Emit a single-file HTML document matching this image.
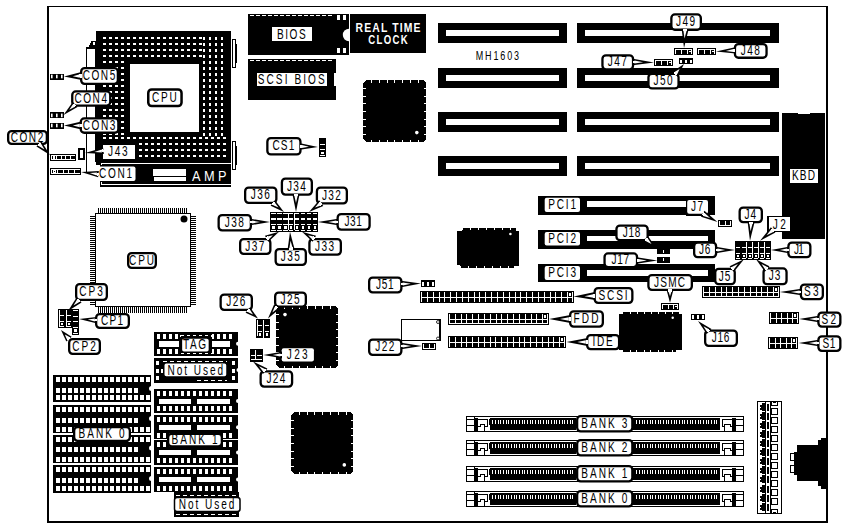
<!DOCTYPE html>
<html><head><meta charset="utf-8"><style>
html,body{margin:0;padding:0;background:#fff;width:849px;height:527px;overflow:hidden}
svg{display:block;font-family:"Liberation Sans",sans-serif}

</style></head><body>
<svg width="849" height="527" viewBox="0 0 849 527" shape-rendering="crispEdges" font-family="Liberation Sans, sans-serif">
<rect x="0" y="0" width="849" height="527" fill="#fff"/>
<rect x="47" y="6" width="781" height="1" fill="#000" />
<rect x="47" y="521" width="781" height="2" fill="#000" />
<rect x="47" y="6" width="2" height="517" fill="#000" />
<rect x="826" y="6" width="2" height="517" fill="#000" />
<rect x="96" y="31" width="135" height="131" fill="#000" />
<rect x="130" y="64" width="69" height="68" fill="#fff" />
<rect x="103" y="37" width="3" height="2" fill="#fff" />
<rect x="109" y="37" width="3" height="2" fill="#fff" />
<rect x="115" y="37" width="3" height="2" fill="#fff" />
<rect x="121" y="37" width="3" height="2" fill="#fff" />
<rect x="127" y="37" width="3" height="2" fill="#fff" />
<rect x="133" y="37" width="3" height="2" fill="#fff" />
<rect x="139" y="37" width="3" height="2" fill="#fff" />
<rect x="145" y="37" width="3" height="2" fill="#fff" />
<rect x="151" y="37" width="3" height="2" fill="#fff" />
<rect x="157" y="37" width="3" height="2" fill="#fff" />
<rect x="163" y="37" width="3" height="2" fill="#fff" />
<rect x="169" y="37" width="3" height="2" fill="#fff" />
<rect x="175" y="37" width="3" height="2" fill="#fff" />
<rect x="181" y="37" width="3" height="2" fill="#fff" />
<rect x="187" y="37" width="3" height="2" fill="#fff" />
<rect x="193" y="37" width="3" height="2" fill="#fff" />
<rect x="199" y="37" width="3" height="2" fill="#fff" />
<rect x="103" y="43" width="3" height="2" fill="#fff" />
<rect x="109" y="43" width="3" height="2" fill="#fff" />
<rect x="115" y="43" width="3" height="2" fill="#fff" />
<rect x="121" y="43" width="3" height="2" fill="#fff" />
<rect x="127" y="43" width="3" height="2" fill="#fff" />
<rect x="133" y="43" width="3" height="2" fill="#fff" />
<rect x="139" y="43" width="3" height="2" fill="#fff" />
<rect x="145" y="43" width="3" height="2" fill="#fff" />
<rect x="151" y="43" width="3" height="2" fill="#fff" />
<rect x="157" y="43" width="3" height="2" fill="#fff" />
<rect x="163" y="43" width="3" height="2" fill="#fff" />
<rect x="169" y="43" width="3" height="2" fill="#fff" />
<rect x="175" y="43" width="3" height="2" fill="#fff" />
<rect x="181" y="43" width="3" height="2" fill="#fff" />
<rect x="187" y="43" width="3" height="2" fill="#fff" />
<rect x="193" y="43" width="3" height="2" fill="#fff" />
<rect x="199" y="43" width="3" height="2" fill="#fff" />
<rect x="103" y="49" width="3" height="2" fill="#fff" />
<rect x="109" y="49" width="3" height="2" fill="#fff" />
<rect x="115" y="49" width="3" height="2" fill="#fff" />
<rect x="121" y="49" width="3" height="2" fill="#fff" />
<rect x="127" y="49" width="3" height="2" fill="#fff" />
<rect x="133" y="49" width="3" height="2" fill="#fff" />
<rect x="139" y="49" width="3" height="2" fill="#fff" />
<rect x="145" y="49" width="3" height="2" fill="#fff" />
<rect x="151" y="49" width="3" height="2" fill="#fff" />
<rect x="157" y="49" width="3" height="2" fill="#fff" />
<rect x="163" y="49" width="3" height="2" fill="#fff" />
<rect x="169" y="49" width="3" height="2" fill="#fff" />
<rect x="175" y="49" width="3" height="2" fill="#fff" />
<rect x="181" y="49" width="3" height="2" fill="#fff" />
<rect x="187" y="49" width="3" height="2" fill="#fff" />
<rect x="193" y="49" width="3" height="2" fill="#fff" />
<rect x="199" y="49" width="3" height="2" fill="#fff" />
<rect x="103" y="55" width="3" height="2" fill="#fff" />
<rect x="109" y="55" width="3" height="2" fill="#fff" />
<rect x="115" y="55" width="3" height="2" fill="#fff" />
<rect x="121" y="55" width="3" height="2" fill="#fff" />
<rect x="127" y="55" width="3" height="2" fill="#fff" />
<rect x="133" y="55" width="3" height="2" fill="#fff" />
<rect x="139" y="55" width="3" height="2" fill="#fff" />
<rect x="145" y="55" width="3" height="2" fill="#fff" />
<rect x="151" y="55" width="3" height="2" fill="#fff" />
<rect x="157" y="55" width="3" height="2" fill="#fff" />
<rect x="163" y="55" width="3" height="2" fill="#fff" />
<rect x="169" y="55" width="3" height="2" fill="#fff" />
<rect x="175" y="55" width="3" height="2" fill="#fff" />
<rect x="181" y="55" width="3" height="2" fill="#fff" />
<rect x="187" y="55" width="3" height="2" fill="#fff" />
<rect x="193" y="55" width="3" height="2" fill="#fff" />
<rect x="199" y="55" width="3" height="2" fill="#fff" />
<rect x="103" y="137" width="3" height="2" fill="#fff" />
<rect x="109" y="137" width="3" height="2" fill="#fff" />
<rect x="115" y="137" width="3" height="2" fill="#fff" />
<rect x="121" y="137" width="3" height="2" fill="#fff" />
<rect x="127" y="137" width="3" height="2" fill="#fff" />
<rect x="133" y="137" width="3" height="2" fill="#fff" />
<rect x="139" y="137" width="3" height="2" fill="#fff" />
<rect x="145" y="137" width="3" height="2" fill="#fff" />
<rect x="151" y="137" width="3" height="2" fill="#fff" />
<rect x="157" y="137" width="3" height="2" fill="#fff" />
<rect x="163" y="137" width="3" height="2" fill="#fff" />
<rect x="169" y="137" width="3" height="2" fill="#fff" />
<rect x="175" y="137" width="3" height="2" fill="#fff" />
<rect x="181" y="137" width="3" height="2" fill="#fff" />
<rect x="187" y="137" width="3" height="2" fill="#fff" />
<rect x="193" y="137" width="3" height="2" fill="#fff" />
<rect x="199" y="137" width="3" height="2" fill="#fff" />
<rect x="205" y="137" width="3" height="2" fill="#fff" />
<rect x="211" y="137" width="3" height="2" fill="#fff" />
<rect x="217" y="137" width="3" height="2" fill="#fff" />
<rect x="223" y="137" width="3" height="2" fill="#fff" />
<rect x="103" y="143" width="3" height="2" fill="#fff" />
<rect x="109" y="143" width="3" height="2" fill="#fff" />
<rect x="115" y="143" width="3" height="2" fill="#fff" />
<rect x="121" y="143" width="3" height="2" fill="#fff" />
<rect x="127" y="143" width="3" height="2" fill="#fff" />
<rect x="133" y="143" width="3" height="2" fill="#fff" />
<rect x="139" y="143" width="3" height="2" fill="#fff" />
<rect x="145" y="143" width="3" height="2" fill="#fff" />
<rect x="151" y="143" width="3" height="2" fill="#fff" />
<rect x="157" y="143" width="3" height="2" fill="#fff" />
<rect x="163" y="143" width="3" height="2" fill="#fff" />
<rect x="169" y="143" width="3" height="2" fill="#fff" />
<rect x="175" y="143" width="3" height="2" fill="#fff" />
<rect x="181" y="143" width="3" height="2" fill="#fff" />
<rect x="187" y="143" width="3" height="2" fill="#fff" />
<rect x="193" y="143" width="3" height="2" fill="#fff" />
<rect x="199" y="143" width="3" height="2" fill="#fff" />
<rect x="205" y="143" width="3" height="2" fill="#fff" />
<rect x="211" y="143" width="3" height="2" fill="#fff" />
<rect x="217" y="143" width="3" height="2" fill="#fff" />
<rect x="223" y="143" width="3" height="2" fill="#fff" />
<rect x="103" y="149" width="3" height="2" fill="#fff" />
<rect x="109" y="149" width="3" height="2" fill="#fff" />
<rect x="115" y="149" width="3" height="2" fill="#fff" />
<rect x="121" y="149" width="3" height="2" fill="#fff" />
<rect x="127" y="149" width="3" height="2" fill="#fff" />
<rect x="133" y="149" width="3" height="2" fill="#fff" />
<rect x="139" y="149" width="3" height="2" fill="#fff" />
<rect x="145" y="149" width="3" height="2" fill="#fff" />
<rect x="151" y="149" width="3" height="2" fill="#fff" />
<rect x="157" y="149" width="3" height="2" fill="#fff" />
<rect x="163" y="149" width="3" height="2" fill="#fff" />
<rect x="169" y="149" width="3" height="2" fill="#fff" />
<rect x="175" y="149" width="3" height="2" fill="#fff" />
<rect x="181" y="149" width="3" height="2" fill="#fff" />
<rect x="187" y="149" width="3" height="2" fill="#fff" />
<rect x="193" y="149" width="3" height="2" fill="#fff" />
<rect x="199" y="149" width="3" height="2" fill="#fff" />
<rect x="205" y="149" width="3" height="2" fill="#fff" />
<rect x="211" y="149" width="3" height="2" fill="#fff" />
<rect x="217" y="149" width="3" height="2" fill="#fff" />
<rect x="223" y="149" width="3" height="2" fill="#fff" />
<rect x="103" y="155" width="3" height="2" fill="#fff" />
<rect x="109" y="155" width="3" height="2" fill="#fff" />
<rect x="115" y="155" width="3" height="2" fill="#fff" />
<rect x="121" y="155" width="3" height="2" fill="#fff" />
<rect x="127" y="155" width="3" height="2" fill="#fff" />
<rect x="133" y="155" width="3" height="2" fill="#fff" />
<rect x="139" y="155" width="3" height="2" fill="#fff" />
<rect x="145" y="155" width="3" height="2" fill="#fff" />
<rect x="151" y="155" width="3" height="2" fill="#fff" />
<rect x="157" y="155" width="3" height="2" fill="#fff" />
<rect x="163" y="155" width="3" height="2" fill="#fff" />
<rect x="169" y="155" width="3" height="2" fill="#fff" />
<rect x="175" y="155" width="3" height="2" fill="#fff" />
<rect x="181" y="155" width="3" height="2" fill="#fff" />
<rect x="187" y="155" width="3" height="2" fill="#fff" />
<rect x="193" y="155" width="3" height="2" fill="#fff" />
<rect x="199" y="155" width="3" height="2" fill="#fff" />
<rect x="205" y="155" width="3" height="2" fill="#fff" />
<rect x="211" y="155" width="3" height="2" fill="#fff" />
<rect x="217" y="155" width="3" height="2" fill="#fff" />
<rect x="223" y="155" width="3" height="2" fill="#fff" />
<rect x="103" y="61" width="3" height="2" fill="#fff" />
<rect x="109" y="61" width="3" height="2" fill="#fff" />
<rect x="115" y="61" width="3" height="2" fill="#fff" />
<rect x="121" y="61" width="3" height="2" fill="#fff" />
<rect x="103" y="67" width="3" height="2" fill="#fff" />
<rect x="109" y="67" width="3" height="2" fill="#fff" />
<rect x="115" y="67" width="3" height="2" fill="#fff" />
<rect x="121" y="67" width="3" height="2" fill="#fff" />
<rect x="103" y="73" width="3" height="2" fill="#fff" />
<rect x="109" y="73" width="3" height="2" fill="#fff" />
<rect x="115" y="73" width="3" height="2" fill="#fff" />
<rect x="121" y="73" width="3" height="2" fill="#fff" />
<rect x="103" y="79" width="3" height="2" fill="#fff" />
<rect x="109" y="79" width="3" height="2" fill="#fff" />
<rect x="115" y="79" width="3" height="2" fill="#fff" />
<rect x="121" y="79" width="3" height="2" fill="#fff" />
<rect x="103" y="85" width="3" height="2" fill="#fff" />
<rect x="109" y="85" width="3" height="2" fill="#fff" />
<rect x="115" y="85" width="3" height="2" fill="#fff" />
<rect x="121" y="85" width="3" height="2" fill="#fff" />
<rect x="103" y="91" width="3" height="2" fill="#fff" />
<rect x="109" y="91" width="3" height="2" fill="#fff" />
<rect x="115" y="91" width="3" height="2" fill="#fff" />
<rect x="121" y="91" width="3" height="2" fill="#fff" />
<rect x="103" y="97" width="3" height="2" fill="#fff" />
<rect x="109" y="97" width="3" height="2" fill="#fff" />
<rect x="115" y="97" width="3" height="2" fill="#fff" />
<rect x="121" y="97" width="3" height="2" fill="#fff" />
<rect x="103" y="103" width="3" height="2" fill="#fff" />
<rect x="109" y="103" width="3" height="2" fill="#fff" />
<rect x="115" y="103" width="3" height="2" fill="#fff" />
<rect x="121" y="103" width="3" height="2" fill="#fff" />
<rect x="103" y="109" width="3" height="2" fill="#fff" />
<rect x="109" y="109" width="3" height="2" fill="#fff" />
<rect x="115" y="109" width="3" height="2" fill="#fff" />
<rect x="121" y="109" width="3" height="2" fill="#fff" />
<rect x="103" y="115" width="3" height="2" fill="#fff" />
<rect x="109" y="115" width="3" height="2" fill="#fff" />
<rect x="115" y="115" width="3" height="2" fill="#fff" />
<rect x="121" y="115" width="3" height="2" fill="#fff" />
<rect x="103" y="121" width="3" height="2" fill="#fff" />
<rect x="109" y="121" width="3" height="2" fill="#fff" />
<rect x="115" y="121" width="3" height="2" fill="#fff" />
<rect x="121" y="121" width="3" height="2" fill="#fff" />
<rect x="103" y="127" width="3" height="2" fill="#fff" />
<rect x="109" y="127" width="3" height="2" fill="#fff" />
<rect x="115" y="127" width="3" height="2" fill="#fff" />
<rect x="121" y="127" width="3" height="2" fill="#fff" />
<rect x="103" y="133" width="3" height="2" fill="#fff" />
<rect x="109" y="133" width="3" height="2" fill="#fff" />
<rect x="115" y="133" width="3" height="2" fill="#fff" />
<rect x="121" y="133" width="3" height="2" fill="#fff" />
<rect x="203" y="37" width="2" height="2.5" fill="#fff" />
<rect x="209" y="37" width="2" height="2.5" fill="#fff" />
<rect x="215" y="37" width="2" height="2.5" fill="#fff" />
<rect x="221" y="37" width="2" height="2.5" fill="#fff" />
<rect x="203" y="43" width="2" height="2.5" fill="#fff" />
<rect x="209" y="43" width="2" height="2.5" fill="#fff" />
<rect x="215" y="43" width="2" height="2.5" fill="#fff" />
<rect x="221" y="43" width="2" height="2.5" fill="#fff" />
<rect x="203" y="49" width="2" height="2.5" fill="#fff" />
<rect x="209" y="49" width="2" height="2.5" fill="#fff" />
<rect x="215" y="49" width="2" height="2.5" fill="#fff" />
<rect x="221" y="49" width="2" height="2.5" fill="#fff" />
<rect x="203" y="55" width="2" height="2.5" fill="#fff" />
<rect x="209" y="55" width="2" height="2.5" fill="#fff" />
<rect x="215" y="55" width="2" height="2.5" fill="#fff" />
<rect x="221" y="55" width="2" height="2.5" fill="#fff" />
<rect x="203" y="61" width="2" height="2.5" fill="#fff" />
<rect x="209" y="61" width="2" height="2.5" fill="#fff" />
<rect x="215" y="61" width="2" height="2.5" fill="#fff" />
<rect x="221" y="61" width="2" height="2.5" fill="#fff" />
<rect x="203" y="67" width="2" height="2.5" fill="#fff" />
<rect x="209" y="67" width="2" height="2.5" fill="#fff" />
<rect x="215" y="67" width="2" height="2.5" fill="#fff" />
<rect x="221" y="67" width="2" height="2.5" fill="#fff" />
<rect x="203" y="73" width="2" height="2.5" fill="#fff" />
<rect x="209" y="73" width="2" height="2.5" fill="#fff" />
<rect x="215" y="73" width="2" height="2.5" fill="#fff" />
<rect x="221" y="73" width="2" height="2.5" fill="#fff" />
<rect x="203" y="79" width="2" height="2.5" fill="#fff" />
<rect x="209" y="79" width="2" height="2.5" fill="#fff" />
<rect x="215" y="79" width="2" height="2.5" fill="#fff" />
<rect x="221" y="79" width="2" height="2.5" fill="#fff" />
<rect x="203" y="85" width="2" height="2.5" fill="#fff" />
<rect x="209" y="85" width="2" height="2.5" fill="#fff" />
<rect x="215" y="85" width="2" height="2.5" fill="#fff" />
<rect x="221" y="85" width="2" height="2.5" fill="#fff" />
<rect x="203" y="91" width="2" height="2.5" fill="#fff" />
<rect x="209" y="91" width="2" height="2.5" fill="#fff" />
<rect x="215" y="91" width="2" height="2.5" fill="#fff" />
<rect x="221" y="91" width="2" height="2.5" fill="#fff" />
<rect x="203" y="97" width="2" height="2.5" fill="#fff" />
<rect x="209" y="97" width="2" height="2.5" fill="#fff" />
<rect x="215" y="97" width="2" height="2.5" fill="#fff" />
<rect x="221" y="97" width="2" height="2.5" fill="#fff" />
<rect x="203" y="103" width="2" height="2.5" fill="#fff" />
<rect x="209" y="103" width="2" height="2.5" fill="#fff" />
<rect x="215" y="103" width="2" height="2.5" fill="#fff" />
<rect x="221" y="103" width="2" height="2.5" fill="#fff" />
<rect x="203" y="109" width="2" height="2.5" fill="#fff" />
<rect x="209" y="109" width="2" height="2.5" fill="#fff" />
<rect x="215" y="109" width="2" height="2.5" fill="#fff" />
<rect x="221" y="109" width="2" height="2.5" fill="#fff" />
<rect x="203" y="115" width="2" height="2.5" fill="#fff" />
<rect x="209" y="115" width="2" height="2.5" fill="#fff" />
<rect x="215" y="115" width="2" height="2.5" fill="#fff" />
<rect x="221" y="115" width="2" height="2.5" fill="#fff" />
<rect x="203" y="121" width="2" height="2.5" fill="#fff" />
<rect x="209" y="121" width="2" height="2.5" fill="#fff" />
<rect x="215" y="121" width="2" height="2.5" fill="#fff" />
<rect x="221" y="121" width="2" height="2.5" fill="#fff" />
<rect x="203" y="127" width="2" height="2.5" fill="#fff" />
<rect x="209" y="127" width="2" height="2.5" fill="#fff" />
<rect x="215" y="127" width="2" height="2.5" fill="#fff" />
<rect x="221" y="127" width="2" height="2.5" fill="#fff" />
<rect x="203" y="133" width="2" height="2.5" fill="#fff" />
<rect x="209" y="133" width="2" height="2.5" fill="#fff" />
<rect x="215" y="133" width="2" height="2.5" fill="#fff" />
<rect x="221" y="133" width="2" height="2.5" fill="#fff" />
<rect x="199" y="38" width="0" height="0" fill="#000" />
<rect x="148.25" y="89.45" width="33.30000000000001" height="16.599999999999994" rx="3.5" ry="3.5" fill="#fff" stroke="#000" stroke-width="2.5" shape-rendering="geometricPrecision"/>
<text transform="translate(151.90,101.75) scale(0.72,1)" x="0" y="0" font-size="14" textLength="34.72" lengthAdjust="spacing">CPU</text>
<rect x="86" y="47" width="10" height="115" fill="#000" />
<rect x="87" y="49" width="8" height="113" fill="#fff" />
<rect x="86" y="162" width="1" height="10" fill="#000" />
<rect x="89" y="45" width="7" height="2" fill="#000" />
<rect x="90" y="43" width="6" height="2" fill="#000" />
<rect x="91" y="41" width="5" height="2" fill="#000" />
<rect x="93" y="42" width="2" height="3" fill="#fff" />
<rect x="232" y="39" width="4" height="29" fill="#000" />
<rect x="233" y="40" width="2" height="27" fill="#fff" />
<rect x="236" y="44" width="1" height="19" fill="#000" />
<rect x="232" y="141" width="4" height="29" fill="#000" />
<rect x="233" y="142" width="2" height="27" fill="#fff" />
<rect x="236" y="146" width="1" height="19" fill="#000" />
<rect x="100" y="162" width="131" height="25" fill="#000" />
<rect x="96" y="160" width="5" height="5" fill="#000" />
<rect x="101" y="163" width="130" height="1" fill="#fff" />
<rect x="101" y="163" width="1" height="2" fill="#fff" />
<rect x="101" y="184" width="130" height="1" fill="#fff" />
<rect x="101" y="182" width="1" height="3" fill="#fff" />
<rect x="153" y="169" width="33" height="6.5" fill="#fff" />
<rect x="154" y="177" width="32" height="4" fill="#fff" />
<text transform="translate(192.00,180.60) scale(0.85,1)" x="0" y="0" font-size="15" fill="#fff" font-weight="normal" textLength="40.59" lengthAdjust="spacing">AMP</text>
<rect x="50" y="73.5" width="14" height="6.0" fill="#000" />
<rect x="51" y="74.7" width="1.6" height="3.6" fill="#fff" shape-rendering="geometricPrecision"/>
<rect x="56" y="74.7" width="1.6" height="3.6" fill="#fff" shape-rendering="geometricPrecision"/>
<rect x="61" y="74.7" width="1.6" height="3.6" fill="#fff" shape-rendering="geometricPrecision"/>
<rect x="50" y="112.4" width="14" height="6.0" fill="#000" />
<rect x="51" y="113.60000000000001" width="1.6" height="3.6" fill="#fff" shape-rendering="geometricPrecision"/>
<rect x="56" y="113.60000000000001" width="1.6" height="3.6" fill="#fff" shape-rendering="geometricPrecision"/>
<rect x="61" y="113.60000000000001" width="1.6" height="3.6" fill="#fff" shape-rendering="geometricPrecision"/>
<rect x="50" y="122.5" width="14" height="6.0" fill="#000" />
<rect x="51" y="123.7" width="1.6" height="3.6" fill="#fff" shape-rendering="geometricPrecision"/>
<rect x="56" y="123.7" width="1.6" height="3.6" fill="#fff" shape-rendering="geometricPrecision"/>
<rect x="61" y="123.7" width="1.6" height="3.6" fill="#fff" shape-rendering="geometricPrecision"/>
<rect x="50" y="154" width="26" height="7" fill="#000" />
<rect x="51" y="155" width="24" height="5" fill="#fff" />
<rect x="52" y="156" width="4" height="3" fill="#000" />
<rect x="57" y="156" width="4" height="3" fill="#000" />
<rect x="62" y="156" width="3" height="3" fill="#000" />
<rect x="66" y="156" width="4" height="3" fill="#000" />
<rect x="71" y="156" width="4" height="3" fill="#000" />
<rect x="52" y="156" width="4" height="3" fill="#000" />
<rect x="53" y="156" width="2" height="3" fill="#fff" />
<rect x="54" y="157" width="0" height="1" fill="#000" />
<rect x="50" y="168" width="31" height="7" fill="#000" />
<rect x="51" y="169" width="29" height="5" fill="#fff" />
<rect x="52" y="170" width="5" height="3" fill="#000" />
<rect x="58" y="170" width="5" height="3" fill="#000" />
<rect x="64" y="170" width="4" height="3" fill="#000" />
<rect x="69" y="170" width="5" height="3" fill="#000" />
<rect x="75" y="170" width="5" height="3" fill="#000" />
<rect x="52" y="170" width="5" height="3" fill="#000" />
<rect x="53" y="170" width="3" height="3" fill="#fff" />
<rect x="54" y="171" width="1" height="1" fill="#000" />
<rect x="78" y="148" width="7" height="12" fill="#000" />
<rect x="80" y="150" width="3" height="8" fill="#fff" />
<rect x="81.15" y="68.15" width="36.7" height="15.7" rx="3.5" ry="3.5" fill="#fff" stroke="#000" stroke-width="2.3" shape-rendering="geometricPrecision"/>
<text transform="translate(82.75,80.00) scale(0.72,1)" x="0" y="0" font-size="14" textLength="45.14" lengthAdjust="spacing">CON5</text>
<rect x="72.25" y="91.45" width="38.000000000000014" height="14.100000000000005" rx="3.5" ry="3.5" fill="#fff" stroke="#000" stroke-width="2.3" shape-rendering="geometricPrecision"/>
<text transform="translate(74.50,102.50) scale(0.72,1)" x="0" y="0" font-size="14" textLength="45.14" lengthAdjust="spacing">CON4</text>
<rect x="80.75" y="118.45" width="37.60000000000001" height="14.300000000000008" rx="3.5" ry="3.5" fill="#fff" stroke="#000" stroke-width="2.3" shape-rendering="geometricPrecision"/>
<text transform="translate(82.80,129.60) scale(0.72,1)" x="0" y="0" font-size="14" textLength="45.14" lengthAdjust="spacing">CON3</text>
<rect x="8.15" y="131.15" width="38.7" height="12.7" rx="3.5" ry="3.5" fill="#fff" stroke="#000" stroke-width="2.3" shape-rendering="geometricPrecision"/>
<text transform="translate(10.75,141.50) scale(0.72,1)" x="0" y="0" font-size="14" textLength="45.14" lengthAdjust="spacing">CON2</text>
<rect x="97.5" y="166.5" width="38" height="14.5" rx="2" fill="#fff" shape-rendering="geometricPrecision"/>
<text transform="translate(99.10,177.80) scale(0.72,1)" x="0" y="0" font-size="14" fill="#000" font-weight="normal" textLength="45.97" lengthAdjust="spacing">CON1</text>
<rect x="101" y="142" width="36" height="19" fill="#000" />
<rect x="102.8" y="145.2" width="32.000000000000014" height="13.600000000000023" fill="#fff" />
<text transform="translate(108.00,156.00) scale(0.72,1)" x="0" y="0" font-size="14" fill="#000" font-weight="normal" textLength="27.08" lengthAdjust="spacing">J43</text>
<polygon points="81.37432910461973,71.9550995670851 81.6242071236415,79.95119617578173 64,76.5" fill="#000" shape-rendering="geometricPrecision"/>
<polygon points="79.74387503050269,74.20712521351881 79.85632013906249,77.80536868743228 72.8,76.225" fill="#fff" shape-rendering="geometricPrecision"/>
<polygon points="81.54299676745943,74.15090265923891 81.65544187601922,77.74914613315238 79.55646651623636,77.81473911314559 79.44402140767656,74.21649563923212" fill="#fff" />
<polygon points="81.5,121.5 81.5,129.5 64,125.5" fill="#000" shape-rendering="geometricPrecision"/>
<polygon points="79.8,123.7 79.8,127.3 72.8,125.5" fill="#fff" shape-rendering="geometricPrecision"/>
<polygon points="81.6,123.7 81.6,127.3 79.5,127.3 79.5,123.7" fill="#fff" />
<polygon points="103.11583391426863,147.6466561948157 103.86361789869999,154.0028200624821 85,153" fill="#000" shape-rendering="geometricPrecision"/>
<polygon points="101.63311848263837,149.59323137928854 101.96962127563248,152.45350511973842 94.35,151.9" fill="#fff" shape-rendering="geometricPrecision"/>
<polygon points="103.42078957041954,149.38291713366723 103.75729236341365,152.24319087411712 101.67167609433562,152.48855749400863 101.33517330134151,149.62828375355875" fill="#fff" />
<polygon points="98.88532796575598,171.01076289640005 98.09150566438504,177.36134130736755 81,172" fill="#000" shape-rendering="geometricPrecision"/>
<polygon points="96.98015444246573,172.5463129106145 96.6229344068488,175.40407319554984 89.8,173.1" fill="#fff" shape-rendering="geometricPrecision"/>
<polygon points="98.76625462055034,172.76957543287506 98.40903458493341,175.6273357178104 96.3252510438347,175.36686277517308 96.68247107945163,172.50910249023772" fill="#fff" />
<polygon points="72.75068876831433,101.88342407153064 77.47391856905698,107.103835956562 63.5,115" fill="#000" shape-rendering="geometricPrecision"/>
<polygon points="72.78896613900815,104.45958999066177 74.91441954934234,106.80877533892588 69.275,109.775" fill="#fff" shape-rendering="geometricPrecision"/>
<polygon points="74.12373054143094,103.25194600751735 76.24918395176513,105.60113135578146 74.6919588156052,107.01004933611662 72.56650540527102,104.66086398785251" fill="#fff" />
<polygon points="36.45032395844353,146.4283556979968 41.42835569799682,141.45032395844353 50,155" fill="#000" shape-rendering="geometricPrecision"/>
<polygon points="39.02136421483782,146.2614784976368 41.2614784976368,144.02136421483783 44.5,149.5" fill="#fff" shape-rendering="geometricPrecision"/>
<polygon points="37.748572008702034,144.988686291501 39.98868629150102,142.74857200870204 41.47361053199277,144.2334962491938 39.233496249193784,146.47361053199276" fill="#fff" />
<rect x="95" y="213" width="95.5" height="93.5" fill="#fff" />
<rect x="95.5" y="213.5" width="95" height="93" fill="none" stroke="#000" stroke-width="1.5"/>
<rect x="98" y="208" width="1" height="5.5" fill="#000" />
<rect x="98" y="306.5" width="1" height="6" fill="#000" />
<rect x="100" y="208" width="1" height="5.5" fill="#000" />
<rect x="100" y="306.5" width="1" height="6" fill="#000" />
<rect x="102" y="208" width="1" height="5.5" fill="#000" />
<rect x="102" y="306.5" width="1" height="6" fill="#000" />
<rect x="104" y="208" width="1" height="5.5" fill="#000" />
<rect x="104" y="306.5" width="1" height="6" fill="#000" />
<rect x="106" y="208" width="1" height="5.5" fill="#000" />
<rect x="106" y="306.5" width="1" height="6" fill="#000" />
<rect x="108" y="208" width="1" height="5.5" fill="#000" />
<rect x="108" y="306.5" width="1" height="6" fill="#000" />
<rect x="110" y="208" width="1" height="5.5" fill="#000" />
<rect x="110" y="306.5" width="1" height="6" fill="#000" />
<rect x="112" y="208" width="1" height="5.5" fill="#000" />
<rect x="112" y="306.5" width="1" height="6" fill="#000" />
<rect x="114" y="208" width="1" height="5.5" fill="#000" />
<rect x="114" y="306.5" width="1" height="6" fill="#000" />
<rect x="116" y="208" width="1" height="5.5" fill="#000" />
<rect x="116" y="306.5" width="1" height="6" fill="#000" />
<rect x="118" y="208" width="1" height="5.5" fill="#000" />
<rect x="118" y="306.5" width="1" height="6" fill="#000" />
<rect x="120" y="208" width="1" height="5.5" fill="#000" />
<rect x="120" y="306.5" width="1" height="6" fill="#000" />
<rect x="122" y="208" width="1" height="5.5" fill="#000" />
<rect x="122" y="306.5" width="1" height="6" fill="#000" />
<rect x="124" y="208" width="1" height="5.5" fill="#000" />
<rect x="124" y="306.5" width="1" height="6" fill="#000" />
<rect x="126" y="208" width="1" height="5.5" fill="#000" />
<rect x="126" y="306.5" width="1" height="6" fill="#000" />
<rect x="128" y="208" width="1" height="5.5" fill="#000" />
<rect x="128" y="306.5" width="1" height="6" fill="#000" />
<rect x="130" y="208" width="1" height="5.5" fill="#000" />
<rect x="130" y="306.5" width="1" height="6" fill="#000" />
<rect x="132" y="208" width="1" height="5.5" fill="#000" />
<rect x="132" y="306.5" width="1" height="6" fill="#000" />
<rect x="134" y="208" width="1" height="5.5" fill="#000" />
<rect x="134" y="306.5" width="1" height="6" fill="#000" />
<rect x="136" y="208" width="1" height="5.5" fill="#000" />
<rect x="136" y="306.5" width="1" height="6" fill="#000" />
<rect x="138" y="208" width="1" height="5.5" fill="#000" />
<rect x="138" y="306.5" width="1" height="6" fill="#000" />
<rect x="140" y="208" width="1" height="5.5" fill="#000" />
<rect x="140" y="306.5" width="1" height="6" fill="#000" />
<rect x="142" y="208" width="1" height="5.5" fill="#000" />
<rect x="142" y="306.5" width="1" height="6" fill="#000" />
<rect x="144" y="208" width="1" height="5.5" fill="#000" />
<rect x="144" y="306.5" width="1" height="6" fill="#000" />
<rect x="146" y="208" width="1" height="5.5" fill="#000" />
<rect x="146" y="306.5" width="1" height="6" fill="#000" />
<rect x="148" y="208" width="1" height="5.5" fill="#000" />
<rect x="148" y="306.5" width="1" height="6" fill="#000" />
<rect x="150" y="208" width="1" height="5.5" fill="#000" />
<rect x="150" y="306.5" width="1" height="6" fill="#000" />
<rect x="152" y="208" width="1" height="5.5" fill="#000" />
<rect x="152" y="306.5" width="1" height="6" fill="#000" />
<rect x="154" y="208" width="1" height="5.5" fill="#000" />
<rect x="154" y="306.5" width="1" height="6" fill="#000" />
<rect x="156" y="208" width="1" height="5.5" fill="#000" />
<rect x="156" y="306.5" width="1" height="6" fill="#000" />
<rect x="158" y="208" width="1" height="5.5" fill="#000" />
<rect x="158" y="306.5" width="1" height="6" fill="#000" />
<rect x="160" y="208" width="1" height="5.5" fill="#000" />
<rect x="160" y="306.5" width="1" height="6" fill="#000" />
<rect x="162" y="208" width="1" height="5.5" fill="#000" />
<rect x="162" y="306.5" width="1" height="6" fill="#000" />
<rect x="164" y="208" width="1" height="5.5" fill="#000" />
<rect x="164" y="306.5" width="1" height="6" fill="#000" />
<rect x="166" y="208" width="1" height="5.5" fill="#000" />
<rect x="166" y="306.5" width="1" height="6" fill="#000" />
<rect x="168" y="208" width="1" height="5.5" fill="#000" />
<rect x="168" y="306.5" width="1" height="6" fill="#000" />
<rect x="170" y="208" width="1" height="5.5" fill="#000" />
<rect x="170" y="306.5" width="1" height="6" fill="#000" />
<rect x="172" y="208" width="1" height="5.5" fill="#000" />
<rect x="172" y="306.5" width="1" height="6" fill="#000" />
<rect x="174" y="208" width="1" height="5.5" fill="#000" />
<rect x="174" y="306.5" width="1" height="6" fill="#000" />
<rect x="176" y="208" width="1" height="5.5" fill="#000" />
<rect x="176" y="306.5" width="1" height="6" fill="#000" />
<rect x="178" y="208" width="1" height="5.5" fill="#000" />
<rect x="178" y="306.5" width="1" height="6" fill="#000" />
<rect x="180" y="208" width="1" height="5.5" fill="#000" />
<rect x="180" y="306.5" width="1" height="6" fill="#000" />
<rect x="182" y="208" width="1" height="5.5" fill="#000" />
<rect x="182" y="306.5" width="1" height="6" fill="#000" />
<rect x="184" y="208" width="1" height="5.5" fill="#000" />
<rect x="184" y="306.5" width="1" height="6" fill="#000" />
<rect x="186" y="208" width="1" height="5.5" fill="#000" />
<rect x="186" y="306.5" width="1" height="6" fill="#000" />
<rect x="89.7" y="216" width="5.3" height="1" fill="#000" />
<rect x="190.5" y="216" width="5.5" height="1" fill="#000" />
<rect x="89.7" y="218" width="5.3" height="1" fill="#000" />
<rect x="190.5" y="218" width="5.5" height="1" fill="#000" />
<rect x="89.7" y="220" width="5.3" height="1" fill="#000" />
<rect x="190.5" y="220" width="5.5" height="1" fill="#000" />
<rect x="89.7" y="222" width="5.3" height="1" fill="#000" />
<rect x="190.5" y="222" width="5.5" height="1" fill="#000" />
<rect x="89.7" y="224" width="5.3" height="1" fill="#000" />
<rect x="190.5" y="224" width="5.5" height="1" fill="#000" />
<rect x="89.7" y="226" width="5.3" height="1" fill="#000" />
<rect x="190.5" y="226" width="5.5" height="1" fill="#000" />
<rect x="89.7" y="228" width="5.3" height="1" fill="#000" />
<rect x="190.5" y="228" width="5.5" height="1" fill="#000" />
<rect x="89.7" y="230" width="5.3" height="1" fill="#000" />
<rect x="190.5" y="230" width="5.5" height="1" fill="#000" />
<rect x="89.7" y="232" width="5.3" height="1" fill="#000" />
<rect x="190.5" y="232" width="5.5" height="1" fill="#000" />
<rect x="89.7" y="234" width="5.3" height="1" fill="#000" />
<rect x="190.5" y="234" width="5.5" height="1" fill="#000" />
<rect x="89.7" y="236" width="5.3" height="1" fill="#000" />
<rect x="190.5" y="236" width="5.5" height="1" fill="#000" />
<rect x="89.7" y="238" width="5.3" height="1" fill="#000" />
<rect x="190.5" y="238" width="5.5" height="1" fill="#000" />
<rect x="89.7" y="240" width="5.3" height="1" fill="#000" />
<rect x="190.5" y="240" width="5.5" height="1" fill="#000" />
<rect x="89.7" y="242" width="5.3" height="1" fill="#000" />
<rect x="190.5" y="242" width="5.5" height="1" fill="#000" />
<rect x="89.7" y="244" width="5.3" height="1" fill="#000" />
<rect x="190.5" y="244" width="5.5" height="1" fill="#000" />
<rect x="89.7" y="246" width="5.3" height="1" fill="#000" />
<rect x="190.5" y="246" width="5.5" height="1" fill="#000" />
<rect x="89.7" y="248" width="5.3" height="1" fill="#000" />
<rect x="190.5" y="248" width="5.5" height="1" fill="#000" />
<rect x="89.7" y="250" width="5.3" height="1" fill="#000" />
<rect x="190.5" y="250" width="5.5" height="1" fill="#000" />
<rect x="89.7" y="252" width="5.3" height="1" fill="#000" />
<rect x="190.5" y="252" width="5.5" height="1" fill="#000" />
<rect x="89.7" y="254" width="5.3" height="1" fill="#000" />
<rect x="190.5" y="254" width="5.5" height="1" fill="#000" />
<rect x="89.7" y="256" width="5.3" height="1" fill="#000" />
<rect x="190.5" y="256" width="5.5" height="1" fill="#000" />
<rect x="89.7" y="258" width="5.3" height="1" fill="#000" />
<rect x="190.5" y="258" width="5.5" height="1" fill="#000" />
<rect x="89.7" y="260" width="5.3" height="1" fill="#000" />
<rect x="190.5" y="260" width="5.5" height="1" fill="#000" />
<rect x="89.7" y="262" width="5.3" height="1" fill="#000" />
<rect x="190.5" y="262" width="5.5" height="1" fill="#000" />
<rect x="89.7" y="264" width="5.3" height="1" fill="#000" />
<rect x="190.5" y="264" width="5.5" height="1" fill="#000" />
<rect x="89.7" y="266" width="5.3" height="1" fill="#000" />
<rect x="190.5" y="266" width="5.5" height="1" fill="#000" />
<rect x="89.7" y="268" width="5.3" height="1" fill="#000" />
<rect x="190.5" y="268" width="5.5" height="1" fill="#000" />
<rect x="89.7" y="270" width="5.3" height="1" fill="#000" />
<rect x="190.5" y="270" width="5.5" height="1" fill="#000" />
<rect x="89.7" y="272" width="5.3" height="1" fill="#000" />
<rect x="190.5" y="272" width="5.5" height="1" fill="#000" />
<rect x="89.7" y="274" width="5.3" height="1" fill="#000" />
<rect x="190.5" y="274" width="5.5" height="1" fill="#000" />
<rect x="89.7" y="276" width="5.3" height="1" fill="#000" />
<rect x="190.5" y="276" width="5.5" height="1" fill="#000" />
<rect x="89.7" y="278" width="5.3" height="1" fill="#000" />
<rect x="190.5" y="278" width="5.5" height="1" fill="#000" />
<rect x="89.7" y="280" width="5.3" height="1" fill="#000" />
<rect x="190.5" y="280" width="5.5" height="1" fill="#000" />
<rect x="89.7" y="282" width="5.3" height="1" fill="#000" />
<rect x="190.5" y="282" width="5.5" height="1" fill="#000" />
<rect x="89.7" y="284" width="5.3" height="1" fill="#000" />
<rect x="190.5" y="284" width="5.5" height="1" fill="#000" />
<rect x="89.7" y="286" width="5.3" height="1" fill="#000" />
<rect x="190.5" y="286" width="5.5" height="1" fill="#000" />
<rect x="89.7" y="288" width="5.3" height="1" fill="#000" />
<rect x="190.5" y="288" width="5.5" height="1" fill="#000" />
<rect x="89.7" y="290" width="5.3" height="1" fill="#000" />
<rect x="190.5" y="290" width="5.5" height="1" fill="#000" />
<rect x="89.7" y="292" width="5.3" height="1" fill="#000" />
<rect x="190.5" y="292" width="5.5" height="1" fill="#000" />
<rect x="89.7" y="294" width="5.3" height="1" fill="#000" />
<rect x="190.5" y="294" width="5.5" height="1" fill="#000" />
<rect x="89.7" y="296" width="5.3" height="1" fill="#000" />
<rect x="190.5" y="296" width="5.5" height="1" fill="#000" />
<rect x="89.7" y="298" width="5.3" height="1" fill="#000" />
<rect x="190.5" y="298" width="5.5" height="1" fill="#000" />
<rect x="89.7" y="300" width="5.3" height="1" fill="#000" />
<rect x="190.5" y="300" width="5.5" height="1" fill="#000" />
<rect x="89.7" y="302" width="5.3" height="1" fill="#000" />
<rect x="190.5" y="302" width="5.5" height="1" fill="#000" />
<rect x="89.7" y="304" width="5.3" height="1" fill="#000" />
<rect x="190.5" y="304" width="5.5" height="1" fill="#000" />
<circle shape-rendering="geometricPrecision" cx="184" cy="219" r="3.5" fill="#000"/>
<rect x="128.15" y="253.15" width="27.7" height="14.7" rx="3.5" ry="3.5" fill="#fff" stroke="#000" stroke-width="2.3" shape-rendering="geometricPrecision"/>
<text transform="translate(129.00,264.50) scale(0.72,1)" x="0" y="0" font-size="14" textLength="34.72" lengthAdjust="spacing">CPU</text>
<rect x="58" y="309" width="21" height="19" fill="#000" />
<rect x="72" y="327" width="7" height="8" fill="#000" />
<rect x="59" y="310" width="1" height="17" fill="#fff" />
<rect x="59" y="315" width="5" height="1" fill="#fff" />
<rect x="59" y="321" width="5" height="1" fill="#fff" />
<rect x="59" y="326" width="5" height="1" fill="#fff" />
<rect x="61" y="323" width="2" height="2" fill="#fff" />
<rect x="66" y="310" width="1" height="17" fill="#fff" />
<rect x="66" y="315" width="5" height="1" fill="#fff" />
<rect x="66" y="321" width="5" height="1" fill="#fff" />
<rect x="66" y="326" width="5" height="1" fill="#fff" />
<rect x="68" y="323" width="2" height="2" fill="#fff" />
<rect x="73" y="310" width="5" height="1" fill="#fff" />
<rect x="73" y="316" width="5" height="1" fill="#fff" />
<rect x="73" y="321" width="5" height="1" fill="#fff" />
<rect x="73" y="327" width="5" height="1" fill="#fff" />
<rect x="74" y="329" width="3" height="3" fill="#fff" />
<rect x="73" y="333" width="5" height="1" fill="#fff" />
<rect x="76.15" y="284.15" width="30.7" height="15.7" rx="3.5" ry="3.5" fill="#fff" stroke="#000" stroke-width="2.3" shape-rendering="geometricPrecision"/>
<text transform="translate(79.25,296.00) scale(0.72,1)" x="0" y="0" font-size="14" textLength="32.64" lengthAdjust="spacing">CP3</text>
<rect x="96.15" y="314.15" width="32.7" height="13.7" rx="3.5" ry="3.5" fill="#fff" stroke="#000" stroke-width="2.3" shape-rendering="geometricPrecision"/>
<text transform="translate(101.00,325.00) scale(0.72,1)" x="0" y="0" font-size="14" textLength="30.56" lengthAdjust="spacing">CP1</text>
<rect x="69.15" y="339.15" width="30.7" height="14.7" rx="3.5" ry="3.5" fill="#fff" stroke="#000" stroke-width="2.3" shape-rendering="geometricPrecision"/>
<text transform="translate(72.25,350.50) scale(0.72,1)" x="0" y="0" font-size="14" textLength="32.64" lengthAdjust="spacing">CP2</text>
<polygon points="76.57164430200316,297.4503239584435 81.54967604155647,302.42835569799684 68,311" fill="#000" shape-rendering="geometricPrecision"/>
<polygon points="76.7385215023632,300.0213642148378 78.97863578516217,302.2614784976368 73.5,305.5" fill="#fff" shape-rendering="geometricPrecision"/>
<polygon points="78.01131370849899,298.748572008702 80.25142799129796,300.98868629150104 78.76650375080621,302.4736105319928 76.52638946800724,300.23349624919376" fill="#fff" />
<polygon points="96.6966893834209,316.89979917808756 96.29746835202775,323.287335680378 79,319" fill="#000" shape-rendering="geometricPrecision"/>
<polygon points="94.89021421636689,318.5503286297536 94.71056475223996,321.4247200557843 87.8,319.55" fill="#fff" shape-rendering="geometricPrecision"/>
<polygon points="96.68670885763608,318.66260954483295 96.50705939350915,321.53700097086363 94.4111489786951,321.40600656993774 94.59079844282202,318.53161514390706" fill="#fff" />
<polygon points="71.63682687717099,336.81092882236317 66.33868694643456,341.4468012617575 61,330" fill="#000" shape-rendering="geometricPrecision"/>
<polygon points="69.06038056284198,336.8064133621949 66.6762175940106,338.89255595992233 64.85,334.4" fill="#fff" shape-rendering="geometricPrecision"/>
<polygon points="70.24568885700532,338.1610514126673 67.86152588817393,340.2471940103947 66.47866621165005,338.66678295151024 68.86282918048144,336.5806403537828" fill="#fff" />
<rect x="248" y="14" width="101" height="40.5" fill="#000" />
<rect x="250" y="15" width="4" height="1" fill="#fff" />
<rect x="256" y="15" width="4" height="1" fill="#fff" />
<rect x="262" y="15" width="4" height="1" fill="#fff" />
<rect x="268" y="15" width="4" height="1" fill="#fff" />
<rect x="274" y="15" width="4" height="1" fill="#fff" />
<rect x="280" y="15" width="4" height="1" fill="#fff" />
<rect x="286" y="15" width="4" height="1" fill="#fff" />
<rect x="292" y="15" width="4" height="1" fill="#fff" />
<rect x="298" y="15" width="4" height="1" fill="#fff" />
<rect x="304" y="15" width="4" height="1" fill="#fff" />
<rect x="310" y="15" width="4" height="1" fill="#fff" />
<rect x="316" y="15" width="4" height="1" fill="#fff" />
<rect x="322" y="15" width="4" height="1" fill="#fff" />
<rect x="328" y="15" width="4" height="1" fill="#fff" />
<rect x="337" y="15" width="3" height="5" fill="#fff" />
<rect x="343" y="15" width="3" height="5" fill="#fff" />
<rect x="337" y="48" width="3" height="5" fill="#fff" />
<rect x="343" y="48" width="3" height="5" fill="#fff" />
<circle shape-rendering="geometricPrecision" cx="349" cy="35" r="6.2" fill="#fff"/>
<rect x="272" y="27" width="39.5" height="14" fill="#fff" />
<text transform="translate(276.90,38.90) scale(0.72,1)" x="0" y="0" font-size="14" fill="#000" font-weight="normal" textLength="40.07" lengthAdjust="spacing">BIOS</text>
<rect x="350" y="14" width="76" height="38.5" fill="#000" />
<text transform="translate(355.60,31.80) scale(0.8,1)" x="0" y="0" font-size="13" fill="#fff" font-weight="bold" textLength="81.12" lengthAdjust="spacing">REAL TIME</text>
<text transform="translate(368.30,44.40) scale(0.8,1)" x="0" y="0" font-size="12" fill="#fff" font-weight="bold" textLength="49.38" lengthAdjust="spacing">CLOCK</text>
<rect x="248" y="59" width="88" height="40.5" fill="#000" />
<rect x="250" y="60" width="4" height="1" fill="#fff" />
<rect x="256" y="60" width="4" height="1" fill="#fff" />
<rect x="262" y="60" width="4" height="1" fill="#fff" />
<rect x="268" y="60" width="4" height="1" fill="#fff" />
<rect x="274" y="60" width="4" height="1" fill="#fff" />
<rect x="280" y="60" width="4" height="1" fill="#fff" />
<rect x="286" y="60" width="4" height="1" fill="#fff" />
<rect x="292" y="60" width="4" height="1" fill="#fff" />
<rect x="298" y="60" width="4" height="1" fill="#fff" />
<rect x="304" y="60" width="4" height="1" fill="#fff" />
<rect x="310" y="60" width="4" height="1" fill="#fff" />
<rect x="316" y="60" width="4" height="1" fill="#fff" />
<rect x="322" y="60" width="4" height="1" fill="#fff" />
<rect x="328" y="60" width="4" height="1" fill="#fff" />
<rect x="256.5" y="72.5" width="70.0" height="13.5" fill="#fff" />
<rect x="333.5" y="72.5" width="2.5" height="13.5" fill="#fff" />
<text transform="translate(257.70,83.90) scale(0.72,1)" x="0" y="0" font-size="14" fill="#000" font-weight="normal" textLength="93.06" lengthAdjust="spacing">SCSI BIOS</text>
<polygon points="366,80 423,80 426,83 426,139 423,142 366,142 363,139 363,83" fill="#000" />
<rect x="371" y="80" width="1" height="2.5" fill="#fff" />
<rect x="371" y="139.5" width="1" height="2.5" fill="#fff" />
<rect x="363" y="88" width="2.5" height="1" fill="#fff" />
<rect x="423.5" y="88" width="2.5" height="1" fill="#fff" />
<rect x="379" y="80" width="1" height="2.5" fill="#fff" />
<rect x="379" y="139.5" width="1" height="2.5" fill="#fff" />
<rect x="363" y="96" width="2.5" height="1" fill="#fff" />
<rect x="423.5" y="96" width="2.5" height="1" fill="#fff" />
<rect x="387" y="80" width="1" height="2.5" fill="#fff" />
<rect x="387" y="139.5" width="1" height="2.5" fill="#fff" />
<rect x="363" y="103" width="2.5" height="1" fill="#fff" />
<rect x="423.5" y="103" width="2.5" height="1" fill="#fff" />
<rect x="394" y="80" width="1" height="2.5" fill="#fff" />
<rect x="394" y="139.5" width="1" height="2.5" fill="#fff" />
<rect x="363" y="111" width="2.5" height="1" fill="#fff" />
<rect x="423.5" y="111" width="2.5" height="1" fill="#fff" />
<rect x="402" y="80" width="1" height="2.5" fill="#fff" />
<rect x="402" y="139.5" width="1" height="2.5" fill="#fff" />
<rect x="363" y="119" width="2.5" height="1" fill="#fff" />
<rect x="423.5" y="119" width="2.5" height="1" fill="#fff" />
<rect x="410" y="80" width="1" height="2.5" fill="#fff" />
<rect x="410" y="139.5" width="1" height="2.5" fill="#fff" />
<rect x="363" y="126" width="2.5" height="1" fill="#fff" />
<rect x="423.5" y="126" width="2.5" height="1" fill="#fff" />
<rect x="418" y="80" width="1" height="2.5" fill="#fff" />
<rect x="418" y="139.5" width="1" height="2.5" fill="#fff" />
<rect x="363" y="134" width="2.5" height="1" fill="#fff" />
<rect x="423.5" y="134" width="2.5" height="1" fill="#fff" />
<circle shape-rendering="geometricPrecision" cx="416.8" cy="132.6" r="1.8" fill="#fff"/>
<polygon points="279,306 335,306 338,309 338,365 335,368 279,368 276,365 276,309" fill="#000" />
<rect x="284" y="306" width="1" height="2.5" fill="#fff" />
<rect x="284" y="365.5" width="1" height="2.5" fill="#fff" />
<rect x="276" y="314" width="2.5" height="1" fill="#fff" />
<rect x="335.5" y="314" width="2.5" height="1" fill="#fff" />
<rect x="292" y="306" width="1" height="2.5" fill="#fff" />
<rect x="292" y="365.5" width="1" height="2.5" fill="#fff" />
<rect x="276" y="322" width="2.5" height="1" fill="#fff" />
<rect x="335.5" y="322" width="2.5" height="1" fill="#fff" />
<rect x="299" y="306" width="1" height="2.5" fill="#fff" />
<rect x="299" y="365.5" width="1" height="2.5" fill="#fff" />
<rect x="276" y="329" width="2.5" height="1" fill="#fff" />
<rect x="335.5" y="329" width="2.5" height="1" fill="#fff" />
<rect x="307" y="306" width="1" height="2.5" fill="#fff" />
<rect x="307" y="365.5" width="1" height="2.5" fill="#fff" />
<rect x="276" y="337" width="2.5" height="1" fill="#fff" />
<rect x="335.5" y="337" width="2.5" height="1" fill="#fff" />
<rect x="315" y="306" width="1" height="2.5" fill="#fff" />
<rect x="315" y="365.5" width="1" height="2.5" fill="#fff" />
<rect x="276" y="345" width="2.5" height="1" fill="#fff" />
<rect x="335.5" y="345" width="2.5" height="1" fill="#fff" />
<rect x="322" y="306" width="1" height="2.5" fill="#fff" />
<rect x="322" y="365.5" width="1" height="2.5" fill="#fff" />
<rect x="276" y="352" width="2.5" height="1" fill="#fff" />
<rect x="335.5" y="352" width="2.5" height="1" fill="#fff" />
<rect x="330" y="306" width="1" height="2.5" fill="#fff" />
<rect x="330" y="365.5" width="1" height="2.5" fill="#fff" />
<rect x="276" y="360" width="2.5" height="1" fill="#fff" />
<rect x="335.5" y="360" width="2.5" height="1" fill="#fff" />
<circle shape-rendering="geometricPrecision" cx="285" cy="314.6" r="1.8" fill="#fff"/>
<polygon points="294,412 350.3,412 353.3,415 353.3,471 350.3,474 294,474 291,471 291,415" fill="#000" />
<rect x="299" y="412" width="1" height="2.5" fill="#fff" />
<rect x="299" y="471.5" width="1" height="2.5" fill="#fff" />
<rect x="291" y="420" width="2.5" height="1" fill="#fff" />
<rect x="350.8" y="420" width="2.5" height="1" fill="#fff" />
<rect x="307" y="412" width="1" height="2.5" fill="#fff" />
<rect x="307" y="471.5" width="1" height="2.5" fill="#fff" />
<rect x="291" y="428" width="2.5" height="1" fill="#fff" />
<rect x="350.8" y="428" width="2.5" height="1" fill="#fff" />
<rect x="314" y="412" width="1" height="2.5" fill="#fff" />
<rect x="314" y="471.5" width="1" height="2.5" fill="#fff" />
<rect x="291" y="435" width="2.5" height="1" fill="#fff" />
<rect x="350.8" y="435" width="2.5" height="1" fill="#fff" />
<rect x="322" y="412" width="1" height="2.5" fill="#fff" />
<rect x="322" y="471.5" width="1" height="2.5" fill="#fff" />
<rect x="291" y="443" width="2.5" height="1" fill="#fff" />
<rect x="350.8" y="443" width="2.5" height="1" fill="#fff" />
<rect x="330" y="412" width="1" height="2.5" fill="#fff" />
<rect x="330" y="471.5" width="1" height="2.5" fill="#fff" />
<rect x="291" y="451" width="2.5" height="1" fill="#fff" />
<rect x="350.8" y="451" width="2.5" height="1" fill="#fff" />
<rect x="338" y="412" width="1" height="2.5" fill="#fff" />
<rect x="338" y="471.5" width="1" height="2.5" fill="#fff" />
<rect x="291" y="458" width="2.5" height="1" fill="#fff" />
<rect x="350.8" y="458" width="2.5" height="1" fill="#fff" />
<rect x="346" y="412" width="1" height="2.5" fill="#fff" />
<rect x="346" y="471.5" width="1" height="2.5" fill="#fff" />
<rect x="291" y="466" width="2.5" height="1" fill="#fff" />
<rect x="350.8" y="466" width="2.5" height="1" fill="#fff" />
<circle shape-rendering="geometricPrecision" cx="344.3" cy="464.9" r="1.8" fill="#fff"/>
<rect x="438" y="23" width="129" height="20" fill="#000" />
<rect x="446" y="30" width="113" height="6" fill="#fff" />
<rect x="577" y="23" width="202" height="20" fill="#000" />
<rect x="585" y="30" width="185" height="6" fill="#fff" />
<rect x="438" y="67.5" width="129" height="20.0" fill="#000" />
<rect x="446" y="74.5" width="113" height="6.0" fill="#fff" />
<rect x="577" y="67.5" width="202" height="20.0" fill="#000" />
<rect x="585" y="74.5" width="185" height="6.0" fill="#fff" />
<rect x="438" y="112" width="129" height="20" fill="#000" />
<rect x="446" y="119" width="113" height="6" fill="#fff" />
<rect x="577" y="112" width="202" height="20" fill="#000" />
<rect x="585" y="119" width="185" height="6" fill="#fff" />
<rect x="438" y="156" width="129" height="20" fill="#000" />
<rect x="446" y="163" width="113" height="6" fill="#fff" />
<rect x="577" y="156" width="202" height="20" fill="#000" />
<rect x="585" y="163" width="185" height="6" fill="#fff" />
<text transform="translate(475.80,59.70) scale(0.72,1)" x="0" y="0" font-size="12.5" fill="#000" font-weight="normal" textLength="60.00" lengthAdjust="spacing">MH1603</text>
<rect x="782" y="113" width="43" height="125.5" fill="#000" />
<rect x="798" y="113" width="12" height="1" fill="#fff" />
<rect x="790" y="168.9" width="28" height="14.0" fill="#fff" />
<text transform="translate(791.90,179.80) scale(0.72,1)" x="0" y="0" font-size="14" fill="#000" font-weight="normal" textLength="32.22" lengthAdjust="spacing">KBD</text>
<rect x="602.4499999999999" y="55.35" width="30.60000000000009" height="13.999999999999996" rx="3.5" ry="3.5" fill="#fff" stroke="#000" stroke-width="2.3" shape-rendering="geometricPrecision"/>
<text transform="translate(607.75,66.35) scale(0.72,1)" x="0" y="0" font-size="14" textLength="26.39" lengthAdjust="spacing">J47</text>
<rect x="671.35" y="14.450000000000001" width="29.499999999999954" height="15.299999999999997" rx="3.5" ry="3.5" fill="#fff" stroke="#000" stroke-width="2.3" shape-rendering="geometricPrecision"/>
<text transform="translate(676.10,26.10) scale(0.72,1)" x="0" y="0" font-size="14" textLength="26.39" lengthAdjust="spacing">J49</text>
<rect x="734.9499999999999" y="44.15" width="31.60000000000009" height="13.599999999999998" rx="3.5" ry="3.5" fill="#fff" stroke="#000" stroke-width="2.3" shape-rendering="geometricPrecision"/>
<text transform="translate(740.75,54.95) scale(0.72,1)" x="0" y="0" font-size="14" textLength="26.39" lengthAdjust="spacing">J48</text>
<rect x="648.4499999999999" y="73.85000000000001" width="30.10000000000009" height="14.59999999999999" rx="3.5" ry="3.5" fill="#fff" stroke="#000" stroke-width="2.3" shape-rendering="geometricPrecision"/>
<text transform="translate(653.50,85.15) scale(0.72,1)" x="0" y="0" font-size="14" textLength="26.39" lengthAdjust="spacing">J50</text>
<rect x="674" y="48" width="19" height="7" fill="#000" />
<rect x="675" y="49" width="17" height="1" fill="#fff" />
<rect x="675" y="49" width="1" height="4.5" fill="#fff" />
<rect x="681" y="49" width="1" height="4.5" fill="#fff" />
<rect x="687" y="49" width="1" height="4.5" fill="#fff" />
<rect x="691" y="49" width="1" height="4.5" fill="#fff" />
<rect x="689" y="51" width="3" height="1" fill="#fff" />
<rect x="697" y="48" width="19" height="7" fill="#000" />
<rect x="698" y="49" width="17" height="1" fill="#fff" />
<rect x="698" y="49" width="1" height="4.5" fill="#fff" />
<rect x="704" y="49" width="1" height="4.5" fill="#fff" />
<rect x="710" y="49" width="1" height="4.5" fill="#fff" />
<rect x="714" y="49" width="1" height="4.5" fill="#fff" />
<rect x="712" y="51" width="3" height="1" fill="#fff" />
<rect x="654" y="59" width="19" height="7" fill="#000" />
<rect x="655" y="60" width="17" height="1" fill="#fff" />
<rect x="655" y="60" width="1" height="4.5" fill="#fff" />
<rect x="661" y="60" width="1" height="4.5" fill="#fff" />
<rect x="667" y="60" width="1" height="4.5" fill="#fff" />
<rect x="671" y="60" width="1" height="4.5" fill="#fff" />
<rect x="669" y="62" width="3" height="1" fill="#fff" />
<rect x="679" y="58" width="14" height="6" fill="#000" />
<rect x="680" y="59.5" width="2" height="3.0" fill="#fff" />
<rect x="685" y="59.5" width="2" height="3.0" fill="#fff" />
<rect x="690" y="59.5" width="2" height="3.0" fill="#fff" />
<polygon points="632.619695711035,65.16111346747925 632.7812603667759,58.76315310014223 654,62.5" fill="#000" shape-rendering="geometricPrecision"/>
<polygon points="634.3635842139377,63.44458997814274 634.4362883090209,60.56550781284107 643.11,62.225" fill="#fff" shape-rendering="geometricPrecision"/>
<polygon points="632.5641578606242,63.39914991871562 632.6368619557074,60.520067753413954 634.7361927012399,60.57308115607892 634.6634886061566,63.45216332138059" fill="#fff" />
<polygon points="681.5713075886354,28.80162773566847 688.5998417829801,29.203258261059602 684,48" fill="#000" shape-rendering="geometricPrecision"/>
<polygon points="683.4071698481647,30.609307398671792 686.5700102356199,30.7900411350978 684.55,38.375" fill="#fff" shape-rendering="geometricPrecision"/>
<polygon points="683.5098594711341,28.812238996708633 686.6726998585892,28.99297273313464 686.5528952984583,31.089552535424993 683.3900549110032,30.908818798998986" fill="#fff" />
<polygon points="735.1181462129487,47.22090095280903 735.4771307134965,53.6108250625592 716,51.5" fill="#000" shape-rendering="geometricPrecision"/>
<polygon points="733.519543358947,49.07348534094833 733.6810863841936,51.94895119033591 725.79,50.95" fill="#fff" shape-rendering="geometricPrecision"/>
<polygon points="735.3167095148142,48.97252095016927 735.4782525400608,51.84798679955685 733.381558691549,51.96577858879908 733.2200156663024,49.0903127394115" fill="#fff" />
<polygon points="677.6343350435216,76.4596746907068 672.3725734399886,71.78255326534418 684,64" fill="#000" shape-rendering="geometricPrecision"/>
<polygon points="677.316769128561,73.90287045696985 674.948976406971,71.79816581555667 679.6,68.95" fill="#fff" shape-rendering="geometricPrecision"/>
<polygon points="676.120914218667,75.24820723060044 673.7531214970771,73.14350258918726 675.14828555862,71.57394301995159 677.51607828021,73.67864766136476" fill="#fff" />
<rect x="538" y="195.6" width="176.75" height="19.30000000000001" fill="#000" />
<rect x="586.5" y="201.35" width="99.5" height="5.75" fill="#fff" />
<rect x="544.7" y="197.7" width="35.3" height="14.300000000000011" rx="2" fill="#fff" shape-rendering="geometricPrecision"/>
<text transform="translate(548.30,209.00) scale(0.72,1)" x="0" y="0" font-size="14" fill="#000" font-weight="normal" textLength="38.47" lengthAdjust="spacing">PCI1</text>
<rect x="538" y="229.9" width="176.75" height="18.900000000000006" fill="#000" />
<rect x="586.5" y="235.65" width="121.5" height="5.75" fill="#fff" />
<rect x="544.7" y="232" width="35.3" height="13.599999999999994" rx="2" fill="#fff" shape-rendering="geometricPrecision"/>
<text transform="translate(548.30,242.60) scale(0.72,1)" x="0" y="0" font-size="14" fill="#000" font-weight="normal" textLength="38.47" lengthAdjust="spacing">PCI2</text>
<rect x="538" y="264.3" width="176.75" height="17.899999999999977" fill="#000" />
<rect x="586.5" y="270.05" width="121.5" height="5.75" fill="#fff" />
<rect x="544.7" y="266" width="35.3" height="13.899999999999977" rx="2" fill="#fff" shape-rendering="geometricPrecision"/>
<text transform="translate(548.30,276.90) scale(0.72,1)" x="0" y="0" font-size="14" fill="#000" font-weight="normal" textLength="38.47" lengthAdjust="spacing">PCI3</text>
<rect x="267.34999999999997" y="138.15" width="33.10000000000004" height="16.299999999999994" rx="3.5" ry="3.5" fill="#fff" stroke="#000" stroke-width="2.3" shape-rendering="geometricPrecision"/>
<text transform="translate(272.40,150.30) scale(0.72,1)" x="0" y="0" font-size="14" textLength="30.56" lengthAdjust="spacing">CS1</text>
<rect x="319" y="138" width="7" height="19" fill="#000" />
<rect x="320" y="144" width="5" height="1" fill="#fff" />
<rect x="320" y="149" width="5" height="1" fill="#fff" />
<rect x="321" y="152" width="3" height="2" fill="#fff" />
<rect x="320" y="155" width="5" height="1" fill="#fff" />
<polygon points="300.0031809786448,149.65280335781318 300.19821230949736,143.25577570584966 318,147" fill="#000" shape-rendering="geometricPrecision"/>
<polygon points="301.75602506468204,147.94542595078093 301.8437891635657,145.06676350739735 308.98,146.725" fill="#fff" shape-rendering="geometricPrecision"/>
<polygon points="299.9568610375673,147.89057338897865 300.044625136451,145.01191094559508 302.1436498347515,145.07590560103108 302.05588573586783,147.95456804441466" fill="#fff" />
<rect x="270.2" y="212.1" width="47.5" height="19.599999999999994" fill="#000" />
<rect x="271" y="213.1" width="5" height="1.0" fill="#fff" />
<rect x="271" y="218" width="5" height="2" fill="#fff" />
<rect x="271" y="224" width="5" height="1" fill="#fff" />
<rect x="272" y="226" width="3" height="3" fill="#fff" />
<rect x="271" y="230" width="5" height="1" fill="#fff" />
<rect x="277" y="213.1" width="5" height="1.0" fill="#fff" />
<rect x="277" y="218" width="5" height="2" fill="#fff" />
<rect x="277" y="224" width="5" height="1" fill="#fff" />
<rect x="278" y="226" width="3" height="3" fill="#fff" />
<rect x="277" y="230" width="5" height="1" fill="#fff" />
<rect x="283" y="213.1" width="5" height="1.0" fill="#fff" />
<rect x="283" y="218" width="5" height="2" fill="#fff" />
<rect x="283" y="224" width="5" height="1" fill="#fff" />
<rect x="284" y="226" width="3" height="3" fill="#fff" />
<rect x="283" y="230" width="5" height="1" fill="#fff" />
<rect x="289" y="213.1" width="4" height="1.0" fill="#fff" />
<rect x="289" y="218" width="4" height="2" fill="#fff" />
<rect x="289" y="224" width="4" height="1" fill="#fff" />
<rect x="290" y="226" width="2" height="3" fill="#fff" />
<rect x="289" y="230" width="4" height="1" fill="#fff" />
<rect x="295" y="213.1" width="4" height="1.0" fill="#fff" />
<rect x="295" y="218" width="4" height="2" fill="#fff" />
<rect x="295" y="224" width="4" height="1" fill="#fff" />
<rect x="296" y="226" width="2" height="3" fill="#fff" />
<rect x="295" y="230" width="4" height="1" fill="#fff" />
<rect x="301" y="213.1" width="4" height="1.0" fill="#fff" />
<rect x="301" y="218" width="4" height="2" fill="#fff" />
<rect x="301" y="224" width="4" height="1" fill="#fff" />
<rect x="302" y="226" width="2" height="3" fill="#fff" />
<rect x="301" y="230" width="4" height="1" fill="#fff" />
<rect x="307" y="213.1" width="4" height="1.0" fill="#fff" />
<rect x="307" y="218" width="4" height="2" fill="#fff" />
<rect x="307" y="224" width="4" height="1" fill="#fff" />
<rect x="308" y="226" width="2" height="3" fill="#fff" />
<rect x="307" y="230" width="4" height="1" fill="#fff" />
<rect x="313" y="213.1" width="4" height="1.0" fill="#fff" />
<rect x="313" y="218" width="4" height="2" fill="#fff" />
<rect x="313" y="224" width="4" height="1" fill="#fff" />
<rect x="314" y="226" width="2" height="3" fill="#fff" />
<rect x="313" y="230" width="4" height="1" fill="#fff" />
<rect x="288" y="213.1" width="1" height="17.099999999999994" fill="#fff" />
<rect x="294" y="213.1" width="1" height="17.099999999999994" fill="#fff" />
<rect x="245.15" y="187.65" width="31.2" height="15.2" rx="3.5" ry="3.5" fill="#fff" stroke="#000" stroke-width="2.3" shape-rendering="geometricPrecision"/>
<text transform="translate(250.75,199.25) scale(0.72,1)" x="0" y="0" font-size="14" textLength="26.39" lengthAdjust="spacing">J36</text>
<rect x="281.9" y="178.65" width="29.95" height="15.95" rx="3.5" ry="3.5" fill="#fff" stroke="#000" stroke-width="2.3" shape-rendering="geometricPrecision"/>
<text transform="translate(286.88,190.62) scale(0.72,1)" x="0" y="0" font-size="14" textLength="26.39" lengthAdjust="spacing">J34</text>
<rect x="316.9" y="187.65" width="29.95" height="15.7" rx="3.5" ry="3.5" fill="#fff" stroke="#000" stroke-width="2.3" shape-rendering="geometricPrecision"/>
<text transform="translate(321.88,199.50) scale(0.72,1)" x="0" y="0" font-size="14" textLength="26.39" lengthAdjust="spacing">J32</text>
<rect x="218.65" y="215.15" width="32.2" height="15.2" rx="3.5" ry="3.5" fill="#fff" stroke="#000" stroke-width="2.3" shape-rendering="geometricPrecision"/>
<text transform="translate(224.75,226.75) scale(0.72,1)" x="0" y="0" font-size="14" textLength="26.39" lengthAdjust="spacing">J38</text>
<rect x="337.65" y="214.15" width="31.95" height="15.45" rx="3.5" ry="3.5" fill="#fff" stroke="#000" stroke-width="2.3" shape-rendering="geometricPrecision"/>
<text transform="translate(344.38,225.88) scale(0.72,1)" x="0" y="0" font-size="14" textLength="24.31" lengthAdjust="spacing">J31</text>
<rect x="240.15" y="239.15" width="30.2" height="14.7" rx="3.5" ry="3.5" fill="#fff" stroke="#000" stroke-width="2.3" shape-rendering="geometricPrecision"/>
<text transform="translate(245.25,250.50) scale(0.72,1)" x="0" y="0" font-size="14" textLength="26.39" lengthAdjust="spacing">J37</text>
<rect x="275.65" y="249.15" width="30.2" height="15.7" rx="3.5" ry="3.5" fill="#fff" stroke="#000" stroke-width="2.3" shape-rendering="geometricPrecision"/>
<text transform="translate(280.75,261.00) scale(0.72,1)" x="0" y="0" font-size="14" textLength="26.39" lengthAdjust="spacing">J35</text>
<rect x="309.4" y="239.15" width="31.45" height="15.45" rx="3.5" ry="3.5" fill="#fff" stroke="#000" stroke-width="2.3" shape-rendering="geometricPrecision"/>
<text transform="translate(315.12,250.88) scale(0.72,1)" x="0" y="0" font-size="14" textLength="26.39" lengthAdjust="spacing">J33</text>
<polygon points="270.62977021844387,205.81161563790783 275.02762335322706,200.3142992194289 284,212" fill="#000" shape-rendering="geometricPrecision"/>
<polygon points="273.1666568065624,205.36183520366865 275.14569071721485,202.88804281535312 278.5,207.6" fill="#fff" shape-rendering="geometricPrecision"/>
<polygon points="271.76109294956495,204.23738411807068 273.7401268602174,201.76359172975515 275.37995136004776,203.07545132961945 273.4009174493953,205.54924371793498" fill="#fff" />
<polygon points="292.48,194.25 299.52,194.25 296,212" fill="#000" shape-rendering="geometricPrecision"/>
<polygon points="294.416,195.95 297.584,195.95 296.0,203.0625" fill="#fff" shape-rendering="geometricPrecision"/>
<polygon points="294.416,194.15 297.584,194.15 297.584,196.25 294.416,196.25" fill="#fff" />
<polygon points="319.1427397506386,200.27099143674022 323.2834685022709,205.96449347023466 309,212" fill="#000" shape-rendering="geometricPrecision"/>
<polygon points="318.9065888140221,202.83659638199876 320.7699167522566,205.39867229707127 315.05,207.6" fill="#fff" shape-rendering="geometricPrecision"/>
<polygon points="320.36231376576785,201.77788732618367 322.2256417040024,204.33996324125619 320.5272959269657,205.57512380637377 318.66396798873114,203.01304789130126" fill="#fff" />
<polygon points="250.5,225.2 250.5,218.8 270,222" fill="#000" shape-rendering="geometricPrecision"/>
<polygon points="252.2,223.44 252.2,220.56 260.1,222.0" fill="#fff" shape-rendering="geometricPrecision"/>
<polygon points="250.4,223.44 250.4,220.56 252.5,220.56 252.5,223.44" fill="#fff" />
<polygon points="338.0,218.8 338.0,225.2 317.7,222" fill="#000" shape-rendering="geometricPrecision"/>
<polygon points="336.3,220.56 336.3,223.44 328.04,222.0" fill="#fff" shape-rendering="geometricPrecision"/>
<polygon points="338.1,220.56 338.1,223.44 336.0,223.44 336.0,220.56" fill="#fff" />
<polygon points="268.4477627502265,241.7999879630743 264.9489654461312,235.6909767971936 279,231.7" fill="#000" shape-rendering="geometricPrecision"/>
<polygon points="268.96078084699764,239.27512986163865 267.3863220601547,236.5260748369923 272.95,235.165" fill="#fff" shape-rendering="geometricPrecision"/>
<polygon points="267.3988177648122,240.16970871779938 265.82435897796927,237.42065369315304 267.6466492405189,236.37697836096552 269.2211080273618,239.12603338561186" fill="#fff" />
<polygon points="294.60524622633034,249.28163943741242 287.57845746751764,249.71273077230893 290,231.7" fill="#000" shape-rendering="geometricPrecision"/>
<polygon points="292.56878055780965,247.70337976900018 289.4067256163439,247.89737086970362 290.55,240.665" fill="#fff" shape-rendering="geometricPrecision"/>
<polygon points="292.67900277411843,249.500001894833 289.5169478326527,249.69399299553643 289.3883552469591,247.5979338487315 292.55041018842485,247.40394274802804" fill="#fff" />
<polygon points="316.0510345538688,235.6909767971936 312.5522372497735,241.7999879630743 302,231.7" fill="#000" shape-rendering="geometricPrecision"/>
<polygon points="313.6136779398453,236.5260748369923 312.03921915300236,239.27512986163865 308.05,235.165" fill="#fff" shape-rendering="geometricPrecision"/>
<polygon points="315.17564102203073,237.42065369315304 313.6011822351878,240.16970871779938 311.7788919726382,239.12603338561186 313.3533507594811,236.37697836096552" fill="#fff" />
<rect x="457" y="230" width="62" height="36" fill="#000" />
<rect x="463" y="228" width="53" height="2" fill="#000" />
<rect x="461" y="266" width="53" height="2" fill="#000" />
<rect x="470" y="228" width="1" height="2" fill="#fff" />
<rect x="468" y="266" width="1" height="2" fill="#fff" />
<rect x="478" y="228" width="1" height="2" fill="#fff" />
<rect x="476" y="266" width="1" height="2" fill="#fff" />
<rect x="486" y="228" width="1" height="2" fill="#fff" />
<rect x="484" y="266" width="1" height="2" fill="#fff" />
<rect x="494" y="228" width="1" height="2" fill="#fff" />
<rect x="492" y="266" width="1" height="2" fill="#fff" />
<rect x="502" y="228" width="1" height="2" fill="#fff" />
<rect x="500" y="266" width="1" height="2" fill="#fff" />
<rect x="510" y="228" width="1" height="2" fill="#fff" />
<rect x="508" y="266" width="1" height="2" fill="#fff" />
<rect x="457" y="230" width="5" height="1" fill="#fff" />
<rect x="516" y="230" width="3" height="1" fill="#fff" />
<rect x="457" y="265" width="3" height="1" fill="#fff" />
<circle shape-rendering="geometricPrecision" cx="510.4" cy="234" r="1.3" fill="#fff"/>
<rect x="616.4499999999999" y="225.55" width="31.2" height="14.7" rx="3.5" ry="3.5" fill="#fff" stroke="#000" stroke-width="2.3" shape-rendering="geometricPrecision"/>
<text transform="translate(622.80,236.90) scale(0.72,1)" x="0" y="0" font-size="14" textLength="24.31" lengthAdjust="spacing">J18</text>
<rect x="604.55" y="253.45000000000002" width="32.50000000000007" height="13.599999999999977" rx="3.5" ry="3.5" fill="#fff" stroke="#000" stroke-width="2.3" shape-rendering="geometricPrecision"/>
<text transform="translate(611.55,264.25) scale(0.72,1)" x="0" y="0" font-size="14" textLength="24.31" lengthAdjust="spacing">J17</text>
<rect x="657.3" y="248.7" width="12.5" height="5.700000000000017" fill="#000" />
<rect x="657.3" y="256.9" width="12.5" height="5.7000000000000455" fill="#000" />
<rect x="663" y="250" width="1" height="3" fill="#fff" />
<rect x="663" y="258" width="1" height="3" fill="#fff" />
<polygon points="643.5303029253182,241.61294829735635 648.2398146359403,236.3801575077763 657,249" fill="#000" shape-rendering="geometricPrecision"/>
<polygon points="646.0890186943595,241.31117087398 648.2082989641394,238.956415018669 651.5,244.05" fill="#fff" shape-rendering="geometricPrecision"/>
<polygon points="644.7510892311146,240.10703435705958 646.8703695008945,237.75227850174858 648.4312872080135,239.15710443815573 646.3120069382336,241.51186029346673" fill="#fff" />
<polygon points="636.7,263.7 636.7,257.3 657.3,260.5" fill="#000" shape-rendering="geometricPrecision"/>
<polygon points="638.4000000000001,261.94 638.4000000000001,259.06 646.795,260.5" fill="#fff" shape-rendering="geometricPrecision"/>
<polygon points="636.6,261.94 636.6,259.06 638.7,259.06 638.7,261.94" fill="#fff" />
<rect x="686" y="198.5" width="24" height="17.099999999999994" fill="#000" />
<rect x="687.2" y="200" width="20.8" height="13.8" rx="2" fill="#fff" shape-rendering="geometricPrecision"/>
<text transform="translate(690.90,211.00) scale(0.72,1)" x="0" y="0" font-size="14" fill="#000" font-weight="normal" textLength="16.94" lengthAdjust="spacing">J7</text>
<rect x="718.3" y="220.1" width="13.700000000000045" height="6.5" fill="#000" />
<rect x="719.3" y="221.1" width="11.700000000000045" height="4.5" fill="#fff" />
<rect x="720.3" y="220.1" width="4.2000000000000455" height="4.5" fill="#000" />
<rect x="725.5" y="220.1" width="4.5" height="4.5" fill="#000" />
<polygon points="700.9793009680689,216.84856921517988 704.3982272035664,210.69450199128423 717.5,222" fill="#000" shape-rendering="geometricPrecision"/>
<polygon points="703.4055730522374,215.98179371161226 704.9440898582112,213.2124634608592 710.075,217.875" fill="#fff" shape-rendering="geometricPrecision"/>
<polygon points="701.8320899552186,215.10763643549072 703.3706067611924,212.33830618473766 705.2063370410477,213.3581563402128 703.6678202350739,216.12748659096584" fill="#fff" />
<rect x="735" y="241" width="36" height="18.80000000000001" fill="#000" />
<rect x="736" y="247" width="4" height="1" fill="#fff" />
<rect x="736" y="253" width="4" height="1" fill="#fff" />
<rect x="737" y="255" width="2" height="2" fill="#fff" />
<rect x="736" y="258" width="4" height="1" fill="#fff" />
<rect x="742" y="247" width="4" height="1" fill="#fff" />
<rect x="742" y="253" width="4" height="1" fill="#fff" />
<rect x="743" y="255" width="2" height="2" fill="#fff" />
<rect x="742" y="258" width="4" height="1" fill="#fff" />
<rect x="748" y="247" width="4" height="1" fill="#fff" />
<rect x="748" y="253" width="4" height="1" fill="#fff" />
<rect x="749" y="255" width="2" height="2" fill="#fff" />
<rect x="748" y="258" width="4" height="1" fill="#fff" />
<rect x="754" y="247" width="4" height="1" fill="#fff" />
<rect x="754" y="253" width="4" height="1" fill="#fff" />
<rect x="755" y="255" width="2" height="2" fill="#fff" />
<rect x="754" y="258" width="4" height="1" fill="#fff" />
<rect x="760" y="247" width="4" height="1" fill="#fff" />
<rect x="760" y="253" width="4" height="1" fill="#fff" />
<rect x="761" y="255" width="2" height="2" fill="#fff" />
<rect x="760" y="258" width="4" height="1" fill="#fff" />
<rect x="766" y="247" width="4" height="1" fill="#fff" />
<rect x="766" y="253" width="4" height="1" fill="#fff" />
<rect x="767" y="255" width="2" height="2" fill="#fff" />
<rect x="766" y="258" width="4" height="1" fill="#fff" />
<rect x="746" y="242" width="1" height="16.30000000000001" fill="#fff" />
<rect x="752" y="242" width="1" height="16.30000000000001" fill="#fff" />
<rect x="758" y="242" width="1" height="16.30000000000001" fill="#fff" />
<rect x="764" y="242" width="1" height="16.30000000000001" fill="#fff" />
<rect x="739.65" y="207.65" width="22.2" height="14.45" rx="3.5" ry="3.5" fill="#fff" stroke="#000" stroke-width="2.3" shape-rendering="geometricPrecision"/>
<text transform="translate(744.50,218.88) scale(0.72,1)" x="0" y="0" font-size="14" textLength="15.97" lengthAdjust="spacing">J4</text>
<rect x="767" y="215.7" width="24" height="16.30000000000001" fill="#000" />
<rect x="768.5" y="217.2" width="21.0" height="13.300000000000011" fill="#fff" />
<text transform="translate(772.80,228.70) scale(0.72,1)" x="0" y="0" font-size="14" fill="#000" font-weight="normal" textLength="18.06" lengthAdjust="spacing">J2</text>
<rect x="694.15" y="242.65" width="21.95" height="14.45" rx="3.5" ry="3.5" fill="#fff" stroke="#000" stroke-width="2.3" shape-rendering="geometricPrecision"/>
<text transform="translate(698.88,253.88) scale(0.72,1)" x="0" y="0" font-size="14" textLength="15.97" lengthAdjust="spacing">J6</text>
<rect x="788.4" y="242.65" width="21.95" height="14.45" rx="3.5" ry="3.5" fill="#fff" stroke="#000" stroke-width="2.3" shape-rendering="geometricPrecision"/>
<text transform="translate(793.88,253.88) scale(0.72,1)" x="0" y="0" font-size="14" textLength="13.89" lengthAdjust="spacing">J1</text>
<rect x="715.25" y="268.84999999999997" width="19.499999999999954" height="15.300000000000022" rx="3.5" ry="3.5" fill="#fff" stroke="#000" stroke-width="2.3" shape-rendering="geometricPrecision"/>
<text transform="translate(718.75,280.50) scale(0.72,1)" x="0" y="0" font-size="14" textLength="15.97" lengthAdjust="spacing">J5</text>
<rect x="763.55" y="268.45" width="23.000000000000068" height="15.7" rx="3.5" ry="3.5" fill="#fff" stroke="#000" stroke-width="2.3" shape-rendering="geometricPrecision"/>
<text transform="translate(768.80,280.30) scale(0.72,1)" x="0" y="0" font-size="14" textLength="15.97" lengthAdjust="spacing">J3</text>
<polygon points="747.571032035848,221.55218413812935 754.5996313109642,221.95267412531547 750,240.8" fill="#000" shape-rendering="geometricPrecision"/>
<polygon points="749.4071876066447,223.35956586865348 752.570057280447,223.53978636288724 750.55,231.1475" fill="#fff" shape-rendering="geometricPrecision"/>
<polygon points="749.509585614732,221.56248082672036 752.6724552885344,221.74270132095413 752.5529909457658,223.83930053654274 749.3901212719635,223.65908004230897" fill="#fff" />
<polygon points="770.8988828325771,227.13558449632052 775.405781006215,232.54386230468606 760,240.8" fill="#000" shape-rendering="geometricPrecision"/>
<polygon points="770.832303655012,229.71117437305065 772.860407833149,232.14489938681515 766.6,235.3" fill="#fff" shape-rendering="geometricPrecision"/>
<polygon points="772.2151019582873,228.5588424536546 774.2432061364243,230.9925674674191 772.6299414492698,232.3369547067145 770.6018372711328,229.90322969295" fill="#fff" />
<polygon points="715.75,253.2 715.75,246.8 735,250" fill="#000" shape-rendering="geometricPrecision"/>
<polygon points="717.45,251.44 717.45,248.56 725.2375,250.0" fill="#fff" shape-rendering="geometricPrecision"/>
<polygon points="715.65,251.44 715.65,248.56 717.75,248.56 717.75,251.44" fill="#fff" />
<polygon points="788.75,246.8 788.75,253.2 770.8,250" fill="#000" shape-rendering="geometricPrecision"/>
<polygon points="787.05,248.56 787.05,251.44 779.8475,250.0" fill="#fff" shape-rendering="geometricPrecision"/>
<polygon points="788.85,248.56 788.85,251.44 786.75,251.44 786.75,248.56" fill="#fff" />
<polygon points="734.027623353227,271.6857007805711 729.6297702184438,266.18838436209217 744,259.2" fill="#000" shape-rendering="geometricPrecision"/>
<polygon points="734.1456907172147,269.1119571846468 732.1666568065624,266.63816479633135 737.95,264.04" fill="#fff" shape-rendering="geometricPrecision"/>
<polygon points="732.7401268602173,270.2364082702448 730.761092949565,267.7626158819293 732.4009174493954,266.4507562820651 734.3799513600477,268.92454867038055" fill="#fff" />
<polygon points="769.4514804654041,266.3484302627699 764.8006600853641,271.63345342190615 756,259.2" fill="#000" shape-rendering="geometricPrecision"/>
<polygon points="766.8962918821245,266.67874421021594 764.8034227111065,269.0570046318273 761.5,264.04" fill="#fff" shape-rendering="geometricPrecision"/>
<polygon points="768.2475762125854,267.86787442102155 766.1547070415673,270.2461348426329 764.5782086560296,268.85881626335964 766.6710778270476,266.4805558417483" fill="#fff" />
<rect x="648.4" y="275.15" width="43.45" height="14.7" rx="3.5" ry="3.5" fill="#fff" stroke="#000" stroke-width="2.3" shape-rendering="geometricPrecision"/>
<text transform="translate(654.12,286.50) scale(0.72,1)" x="0" y="0" font-size="14" textLength="43.06" lengthAdjust="spacing">JSMC</text>
<rect x="661" y="303" width="18" height="7" fill="#000" />
<rect x="662" y="304" width="16" height="1" fill="#fff" />
<rect x="662" y="304" width="1" height="4.5" fill="#fff" />
<rect x="668" y="304" width="1" height="4.5" fill="#fff" />
<rect x="673" y="304" width="1" height="4.5" fill="#fff" />
<rect x="677" y="304" width="1" height="4.5" fill="#fff" />
<rect x="675" y="306" width="3" height="1" fill="#fff" />
<polygon points="666.48,289.5 673.52,289.5 670,302.75" fill="#000" shape-rendering="geometricPrecision"/>
<polygon points="668.416,291.2 671.584,291.2 670.0,296.2875" fill="#fff" shape-rendering="geometricPrecision"/>
<polygon points="668.416,289.4 671.584,289.4 671.584,291.5 668.416,291.5" fill="#fff" />
<rect x="702" y="286" width="78" height="12" fill="#000" />
<rect x="703" y="287" width="1" height="10" fill="#fff" />
<rect x="709" y="287" width="1" height="10" fill="#fff" />
<rect x="715" y="287" width="1" height="10" fill="#fff" />
<rect x="721" y="287" width="1" height="10" fill="#fff" />
<rect x="726" y="287" width="1" height="10" fill="#fff" />
<rect x="732" y="287" width="1" height="10" fill="#fff" />
<rect x="738" y="287" width="1" height="10" fill="#fff" />
<rect x="744" y="287" width="1" height="10" fill="#fff" />
<rect x="750" y="287" width="1" height="10" fill="#fff" />
<rect x="756" y="287" width="1" height="10" fill="#fff" />
<rect x="761" y="287" width="1" height="10" fill="#fff" />
<rect x="767" y="287" width="1" height="10" fill="#fff" />
<rect x="773" y="287" width="1" height="10" fill="#fff" />
<rect x="778" y="287" width="1" height="10" fill="#fff" />
<rect x="703" y="292" width="76" height="1" fill="#fff" />
<rect x="703" y="296" width="76" height="1" fill="#fff" />
<rect x="775" y="288" width="2" height="3" fill="#fff" />
<rect x="800.9" y="284.65" width="21.95" height="14.45" rx="3.5" ry="3.5" fill="#fff" stroke="#000" stroke-width="2.3" shape-rendering="geometricPrecision"/>
<text transform="translate(804.12,295.88) scale(0.72,1)" x="0" y="0" font-size="14" textLength="20.14" lengthAdjust="spacing">S3</text>
<polygon points="801.25,288.8 801.25,295.2 779.75,292" fill="#000" shape-rendering="geometricPrecision"/>
<polygon points="799.55,290.56 799.55,293.44 790.75,292.0" fill="#fff" shape-rendering="geometricPrecision"/>
<polygon points="801.35,290.56 801.35,293.44 799.25,293.44 799.25,290.56" fill="#fff" />
<rect x="691" y="313.5" width="14" height="6.5" fill="#000" />
<rect x="692" y="315.0" width="2" height="3.5" fill="#fff" />
<rect x="697" y="315.0" width="2" height="3.5" fill="#fff" />
<rect x="702" y="315.0" width="2" height="3.5" fill="#fff" />
<rect x="705.15" y="330.65" width="31.7" height="15.2" rx="3.5" ry="3.5" fill="#fff" stroke="#000" stroke-width="2.3" shape-rendering="geometricPrecision"/>
<text transform="translate(711.75,342.25) scale(0.72,1)" x="0" y="0" font-size="14" textLength="24.31" lengthAdjust="spacing">J16</text>
<polygon points="711.5118972563314,328.9811261866197 706.6631010444519,334.0851221991244 698,321" fill="#000" shape-rendering="geometricPrecision"/>
<polygon points="708.945979260954,329.21385100480353 706.7640209656082,331.5106492104306 703.5,326.225" fill="#fff" shape-rendering="geometricPrecision"/>
<polygon points="710.2509782414239,330.45360003625 708.0690199460781,332.75039824187706 706.5465211355299,331.3040243718562 708.7284794308757,329.00722616622915" fill="#fff" />
<rect x="769" y="312" width="30" height="12" fill="#000" />
<rect x="770" y="313" width="1" height="10" fill="#fff" />
<rect x="776" y="313" width="1" height="10" fill="#fff" />
<rect x="781" y="313" width="1" height="10" fill="#fff" />
<rect x="787" y="313" width="1" height="10" fill="#fff" />
<rect x="792" y="313" width="1" height="10" fill="#fff" />
<rect x="797" y="313" width="1" height="10" fill="#fff" />
<rect x="770" y="318" width="28" height="1" fill="#fff" />
<rect x="794" y="314" width="2" height="3" fill="#fff" />
<rect x="818.4" y="312.65" width="21.95" height="13.95" rx="3.5" ry="3.5" fill="#fff" stroke="#000" stroke-width="2.3" shape-rendering="geometricPrecision"/>
<text transform="translate(821.62,323.62) scale(0.72,1)" x="0" y="0" font-size="14" textLength="20.14" lengthAdjust="spacing">S2</text>
<polygon points="818.75,315.8 818.75,322.2 799,319" fill="#000" shape-rendering="geometricPrecision"/>
<polygon points="817.05,317.56 817.05,320.44 809.0375,319.0" fill="#fff" shape-rendering="geometricPrecision"/>
<polygon points="818.85,317.56 818.85,320.44 816.75,320.44 816.75,317.56" fill="#fff" />
<rect x="768" y="337" width="30" height="12" fill="#000" />
<rect x="769" y="338" width="1" height="10" fill="#fff" />
<rect x="775" y="338" width="1" height="10" fill="#fff" />
<rect x="780" y="338" width="1" height="10" fill="#fff" />
<rect x="786" y="338" width="1" height="10" fill="#fff" />
<rect x="791" y="338" width="1" height="10" fill="#fff" />
<rect x="796" y="338" width="1" height="10" fill="#fff" />
<rect x="769" y="343" width="28" height="1" fill="#fff" />
<rect x="793" y="339" width="2" height="3" fill="#fff" />
<rect x="818.4" y="336.4" width="21.95" height="14.45" rx="3.5" ry="3.5" fill="#fff" stroke="#000" stroke-width="2.3" shape-rendering="geometricPrecision"/>
<text transform="translate(822.38,347.62) scale(0.72,1)" x="0" y="0" font-size="14" textLength="18.06" lengthAdjust="spacing">S1</text>
<polygon points="818.75,339.8 818.75,346.2 798.5,343" fill="#000" shape-rendering="geometricPrecision"/>
<polygon points="817.05,341.56 817.05,344.44 808.8125,343.0" fill="#fff" shape-rendering="geometricPrecision"/>
<polygon points="818.85,341.56 818.85,344.44 816.75,344.44 816.75,341.56" fill="#fff" />
<rect x="619" y="314" width="63" height="36" fill="#000" />
<rect x="623" y="312" width="56" height="2" fill="#000" />
<rect x="622.5" y="350" width="53.5" height="2" fill="#000" />
<rect x="630" y="312" width="1" height="2" fill="#fff" />
<rect x="630" y="350" width="1" height="2" fill="#fff" />
<rect x="637" y="312" width="1" height="2" fill="#fff" />
<rect x="636" y="350" width="1" height="2" fill="#fff" />
<rect x="644" y="312" width="1" height="2" fill="#fff" />
<rect x="644" y="350" width="1" height="2" fill="#fff" />
<rect x="651" y="312" width="1" height="2" fill="#fff" />
<rect x="650" y="350" width="1" height="2" fill="#fff" />
<rect x="658" y="312" width="1" height="2" fill="#fff" />
<rect x="658" y="350" width="1" height="2" fill="#fff" />
<rect x="665" y="312" width="1" height="2" fill="#fff" />
<rect x="664" y="350" width="1" height="2" fill="#fff" />
<rect x="672" y="312" width="1" height="2" fill="#fff" />
<rect x="672" y="350" width="1" height="2" fill="#fff" />
<circle shape-rendering="geometricPrecision" cx="672.7" cy="317.8" r="1.2" fill="#fff"/>
<rect x="420" y="291" width="154" height="12" fill="#000" />
<rect x="421" y="292" width="1" height="10" fill="#fff" />
<rect x="427" y="292" width="1" height="10" fill="#fff" />
<rect x="433" y="292" width="1" height="10" fill="#fff" />
<rect x="439" y="292" width="1" height="10" fill="#fff" />
<rect x="444" y="292" width="1" height="10" fill="#fff" />
<rect x="450" y="292" width="1" height="10" fill="#fff" />
<rect x="456" y="292" width="1" height="10" fill="#fff" />
<rect x="462" y="292" width="1" height="10" fill="#fff" />
<rect x="468" y="292" width="1" height="10" fill="#fff" />
<rect x="474" y="292" width="1" height="10" fill="#fff" />
<rect x="479" y="292" width="1" height="10" fill="#fff" />
<rect x="485" y="292" width="1" height="10" fill="#fff" />
<rect x="491" y="292" width="1" height="10" fill="#fff" />
<rect x="497" y="292" width="1" height="10" fill="#fff" />
<rect x="503" y="292" width="1" height="10" fill="#fff" />
<rect x="509" y="292" width="1" height="10" fill="#fff" />
<rect x="515" y="292" width="1" height="10" fill="#fff" />
<rect x="520" y="292" width="1" height="10" fill="#fff" />
<rect x="526" y="292" width="1" height="10" fill="#fff" />
<rect x="532" y="292" width="1" height="10" fill="#fff" />
<rect x="538" y="292" width="1" height="10" fill="#fff" />
<rect x="544" y="292" width="1" height="10" fill="#fff" />
<rect x="550" y="292" width="1" height="10" fill="#fff" />
<rect x="555" y="292" width="1" height="10" fill="#fff" />
<rect x="561" y="292" width="1" height="10" fill="#fff" />
<rect x="567" y="292" width="1" height="10" fill="#fff" />
<rect x="572" y="292" width="1" height="10" fill="#fff" />
<rect x="421" y="297" width="152" height="1" fill="#fff" />
<rect x="569" y="293" width="2" height="3" fill="#fff" />
<rect x="594.65" y="288.15" width="37.7" height="14.7" rx="3.5" ry="3.5" fill="#fff" stroke="#000" stroke-width="2.3" shape-rendering="geometricPrecision"/>
<text transform="translate(598.50,299.50) scale(0.72,1)" x="0" y="0" font-size="14" textLength="40.28" lengthAdjust="spacing">SCSI</text>
<polygon points="594.8995627049713,291.9637611276272 595.099500234253,299.96126229889217 573.5,296.5" fill="#000" shape-rendering="geometricPrecision"/>
<polygon points="593.25507652663,294.20556067469744 593.3450484148067,297.8044362017667 584.5,296.225" fill="#fff" shape-rendering="geometricPrecision"/>
<polygon points="595.0545142901647,294.160574730609 595.1444861783414,297.7594502576783 593.0451421208843,297.81193385911473 592.9551702327076,294.2130583320455" fill="#fff" />
<rect x="448" y="313" width="101" height="12" fill="#000" />
<rect x="449" y="314" width="1" height="10" fill="#fff" />
<rect x="455" y="314" width="1" height="10" fill="#fff" />
<rect x="461" y="314" width="1" height="10" fill="#fff" />
<rect x="466" y="314" width="1" height="10" fill="#fff" />
<rect x="472" y="314" width="1" height="10" fill="#fff" />
<rect x="478" y="314" width="1" height="10" fill="#fff" />
<rect x="484" y="314" width="1" height="10" fill="#fff" />
<rect x="490" y="314" width="1" height="10" fill="#fff" />
<rect x="496" y="314" width="1" height="10" fill="#fff" />
<rect x="501" y="314" width="1" height="10" fill="#fff" />
<rect x="507" y="314" width="1" height="10" fill="#fff" />
<rect x="513" y="314" width="1" height="10" fill="#fff" />
<rect x="519" y="314" width="1" height="10" fill="#fff" />
<rect x="525" y="314" width="1" height="10" fill="#fff" />
<rect x="531" y="314" width="1" height="10" fill="#fff" />
<rect x="536" y="314" width="1" height="10" fill="#fff" />
<rect x="542" y="314" width="1" height="10" fill="#fff" />
<rect x="547" y="314" width="1" height="10" fill="#fff" />
<rect x="449" y="319" width="99" height="1" fill="#fff" />
<rect x="449" y="323" width="99" height="1" fill="#fff" />
<rect x="544" y="315" width="2" height="3" fill="#fff" />
<rect x="570.15" y="311.4" width="32.7" height="15.2" rx="3.5" ry="3.5" fill="#fff" stroke="#000" stroke-width="2.3" shape-rendering="geometricPrecision"/>
<text transform="translate(573.50,323.00) scale(0.72,1)" x="0" y="0" font-size="14" textLength="34.72" lengthAdjust="spacing">FDD</text>
<polygon points="570.5,315.0 570.5,323.0 549,319" fill="#000" shape-rendering="geometricPrecision"/>
<polygon points="568.8,317.2 568.8,320.8 560.0,319.0" fill="#fff" shape-rendering="geometricPrecision"/>
<polygon points="570.6,317.2 570.6,320.8 568.5,320.8 568.5,317.2" fill="#fff" />
<rect x="448" y="336" width="118" height="12" fill="#000" />
<rect x="449" y="337" width="1" height="10" fill="#fff" />
<rect x="455" y="337" width="1" height="10" fill="#fff" />
<rect x="461" y="337" width="1" height="10" fill="#fff" />
<rect x="466" y="337" width="1" height="10" fill="#fff" />
<rect x="472" y="337" width="1" height="10" fill="#fff" />
<rect x="478" y="337" width="1" height="10" fill="#fff" />
<rect x="484" y="337" width="1" height="10" fill="#fff" />
<rect x="490" y="337" width="1" height="10" fill="#fff" />
<rect x="495" y="337" width="1" height="10" fill="#fff" />
<rect x="501" y="337" width="1" height="10" fill="#fff" />
<rect x="507" y="337" width="1" height="10" fill="#fff" />
<rect x="513" y="337" width="1" height="10" fill="#fff" />
<rect x="519" y="337" width="1" height="10" fill="#fff" />
<rect x="524" y="337" width="1" height="10" fill="#fff" />
<rect x="530" y="337" width="1" height="10" fill="#fff" />
<rect x="536" y="337" width="1" height="10" fill="#fff" />
<rect x="542" y="337" width="1" height="10" fill="#fff" />
<rect x="548" y="337" width="1" height="10" fill="#fff" />
<rect x="553" y="337" width="1" height="10" fill="#fff" />
<rect x="559" y="337" width="1" height="10" fill="#fff" />
<rect x="564" y="337" width="1" height="10" fill="#fff" />
<rect x="449" y="342" width="116" height="1" fill="#fff" />
<rect x="561" y="338" width="2" height="3" fill="#fff" />
<rect x="587.15" y="335.15" width="31.95" height="13.95" rx="3.5" ry="3.5" fill="#fff" stroke="#000" stroke-width="2.3" shape-rendering="geometricPrecision"/>
<text transform="translate(592.62,346.12) scale(0.72,1)" x="0" y="0" font-size="14" textLength="27.78" lengthAdjust="spacing">IDE</text>
<polygon points="587.5,338.0 587.5,346.0 566.5,342" fill="#000" shape-rendering="geometricPrecision"/>
<polygon points="585.8,340.2 585.8,343.8 577.225,342.0" fill="#fff" shape-rendering="geometricPrecision"/>
<polygon points="587.6,340.2 587.6,343.8 585.5,343.8 585.5,340.2" fill="#fff" />
<rect x="369.15" y="277.65" width="32.2" height="14.7" rx="3.5" ry="3.5" fill="#fff" stroke="#000" stroke-width="2.3" shape-rendering="geometricPrecision"/>
<text transform="translate(376.00,289.00) scale(0.72,1)" x="0" y="0" font-size="14" textLength="24.31" lengthAdjust="spacing">J51</text>
<rect x="421" y="280" width="14" height="7" fill="#000" />
<rect x="422" y="281.5" width="2" height="4.0" fill="#fff" />
<rect x="427" y="281.5" width="2" height="4.0" fill="#fff" />
<rect x="432" y="281.5" width="2" height="4.0" fill="#fff" />
<polygon points="401.087002461504,287.23935764561503 400.9140926288774,280.84169383842874 421,283.5" fill="#000" shape-rendering="geometricPrecision"/>
<polygon points="402.7388317063155,285.43407092434734 402.66102228163356,282.5551222111135 410.825,283.775" fill="#fff" shape-rendering="geometricPrecision"/>
<polygon points="400.9394887605444,285.4827018147736 400.86167933586245,282.6037531015397 402.96091277259546,282.54701706270913 403.0387221972774,285.425965775943" fill="#fff" />
<rect x="369.15" y="339.65" width="32.2" height="15.2" rx="3.5" ry="3.5" fill="#fff" stroke="#000" stroke-width="2.3" shape-rendering="geometricPrecision"/>
<text transform="translate(375.25,351.25) scale(0.72,1)" x="0" y="0" font-size="14" textLength="26.39" lengthAdjust="spacing">J22</text>
<rect x="422" y="342.7" width="14" height="6.900000000000034" fill="#000" />
<rect x="423" y="343.7" width="12" height="4.900000000000034" fill="#fff" />
<rect x="424" y="342.7" width="4.5" height="4.900000000000034" fill="#000" />
<rect x="429.5" y="342.7" width="4.5" height="4.900000000000034" fill="#000" />
<polygon points="401.0,349.2 401.0,342.8 422,346" fill="#000" shape-rendering="geometricPrecision"/>
<polygon points="402.7,347.44 402.7,344.56 411.275,346.0" fill="#fff" shape-rendering="geometricPrecision"/>
<polygon points="400.9,347.44 400.9,344.56 403.0,344.56 403.0,347.44" fill="#fff" />
<rect x="401.5" y="319.7" width="38.5" height="21" fill="#fff" stroke="#000" stroke-width="1.5"/>
<circle shape-rendering="geometricPrecision" cx="438" cy="322" r="1.5" fill="#fff" stroke="#000" stroke-width="0.8"/>
<circle shape-rendering="geometricPrecision" cx="438" cy="338.5" r="1.5" fill="#fff" stroke="#000" stroke-width="0.8"/>
<rect x="255.75" y="318.5" width="14.5" height="19.5" fill="#000" />
<rect x="263" y="319.5" width="1" height="18.5" fill="#fff" />
<rect x="257" y="320" width="1" height="16" fill="#fff" />
<rect x="258" y="325" width="4" height="1" fill="#fff" />
<rect x="258" y="331" width="4" height="1" fill="#fff" />
<rect x="259" y="333" width="2" height="3" fill="#fff" />
<rect x="265" y="325" width="4" height="1" fill="#fff" />
<rect x="265" y="331" width="4" height="1" fill="#fff" />
<rect x="266" y="333" width="2" height="3" fill="#fff" />
<rect x="220.65" y="294.65" width="31.2" height="15.2" rx="3.5" ry="3.5" fill="#fff" stroke="#000" stroke-width="2.3" shape-rendering="geometricPrecision"/>
<text transform="translate(226.25,306.25) scale(0.72,1)" x="0" y="0" font-size="14" textLength="26.39" lengthAdjust="spacing">J26</text>
<rect x="275.15" y="292.65" width="30.7" height="13.95" rx="3.5" ry="3.5" fill="#fff" stroke="#000" stroke-width="2.3" shape-rendering="geometricPrecision"/>
<text transform="translate(280.50,303.62) scale(0.72,1)" x="0" y="0" font-size="14" textLength="26.39" lengthAdjust="spacing">J25</text>
<polygon points="245.59421899378498,312.74386230468605 250.1011171674229,307.33558449632056 258,318.5" fill="#000" shape-rendering="geometricPrecision"/>
<polygon points="248.13959216685095,312.34489938681514 250.16769634498803,309.91117437305064 253.05,314.375" fill="#fff" shape-rendering="geometricPrecision"/>
<polygon points="246.75679386357567,311.1925674674191 248.78489804171275,308.7588424536546 250.39816272886722,310.10322969295 248.37005855073014,312.5369547067145" fill="#fff" />
<polygon points="274.0716552150957,304.44517226008185 279.7193770928649,308.64812807609604 268,318.5" fill="#000" shape-rendering="geometricPrecision"/>
<polygon points="274.60986042363794,306.9647815856516 277.151335268634,308.856111702858 272.4,312.5875" fill="#fff" shape-rendering="geometricPrecision"/>
<polygon points="275.6844798084143,305.52076178735837 278.2259546534104,307.41209190456476 276.97223203783795,309.0967816692402 274.4307571928419,307.2054515520338" fill="#fff" />
<rect x="250" y="348.7" width="13" height="12.900000000000034" fill="#000" />
<rect x="255" y="350" width="1" height="10" fill="#fff" />
<rect x="251" y="355" width="4" height="1" fill="#fff" />
<rect x="257" y="355" width="5" height="1" fill="#fff" />
<rect x="251" y="359" width="11" height="1" fill="#fff" />
<rect x="280" y="346.5" width="36" height="16.5" fill="#000" />
<rect x="281.7" y="348.2" width="32.2" height="13.3" rx="2" fill="#fff" shape-rendering="geometricPrecision"/>
<text transform="translate(286.80,359.00) scale(0.72,1)" x="0" y="0" font-size="14" fill="#000" font-weight="normal" textLength="29.03" lengthAdjust="spacing">J23</text>
<polygon points="282.0,351.8 282.0,358.2 263.25,355" fill="#000" shape-rendering="geometricPrecision"/>
<polygon points="280.3,353.56 280.3,356.44 272.7375,355.0" fill="#fff" shape-rendering="geometricPrecision"/>
<polygon points="282.1,353.56 282.1,356.44 280.0,356.44 280.0,353.56" fill="#fff" />
<rect x="260.65" y="371.4" width="31.45" height="15.2" rx="3.5" ry="3.5" fill="#fff" stroke="#000" stroke-width="2.3" shape-rendering="geometricPrecision"/>
<text transform="translate(266.38,383.00) scale(0.72,1)" x="0" y="0" font-size="14" textLength="26.39" lengthAdjust="spacing">J24</text>
<polygon points="267.36518453295525,368.429029638034 262.9826186295717,373.93854105943063 253,361.5" fill="#000" shape-rendering="geometricPrecision"/>
<polygon points="264.8295571174262,368.88585521702146 262.85740246090353,371.36513535664994 259.05,366.3125" fill="#fff" shape-rendering="geometricPrecision"/>
<polygon points="266.2382390149424,370.0063976355002 264.26608435841973,372.4856777751287 262.62262214465085,371.17837828690347 264.5947768011735,368.699098147275" fill="#fff" />
<rect x="466" y="416" width="278" height="1" fill="#000" />
<rect x="466" y="431" width="278" height="1" fill="#000" />
<rect x="466" y="416" width="1" height="16" fill="#000" />
<rect x="743" y="416" width="1" height="16" fill="#000" />
<rect x="467" y="417" width="276" height="14" fill="#fff" />
<rect x="466" y="419" width="9" height="1" fill="#000" />
<rect x="466" y="425" width="9" height="1" fill="#000" />
<rect x="474" y="416" width="1" height="16" fill="#000" />
<rect x="475" y="418" width="3" height="14" fill="#000" />
<rect x="478" y="419" width="10" height="1" fill="#000" />
<rect x="487" y="419" width="1" height="8" fill="#000" />
<rect x="484" y="426" width="4" height="1" fill="#000" />
<rect x="484" y="424" width="1" height="8" fill="#000" />
<rect x="480" y="424" width="5" height="1" fill="#000" />
<rect x="480" y="424" width="1" height="3" fill="#000" />
<rect x="478" y="426" width="3" height="1" fill="#000" />
<rect x="489" y="419" width="2" height="6" fill="#000" />
<rect x="490" y="418" width="86" height="12" fill="#000" />
<rect x="492" y="420" width="1" height="4" fill="#fff" />
<rect x="495" y="420" width="1" height="4" fill="#fff" />
<rect x="498" y="420" width="1" height="4" fill="#fff" />
<rect x="500" y="420" width="1" height="4" fill="#fff" />
<rect x="503" y="420" width="1" height="4" fill="#fff" />
<rect x="506" y="420" width="1" height="4" fill="#fff" />
<rect x="508" y="420" width="1" height="4" fill="#fff" />
<rect x="511" y="420" width="1" height="4" fill="#fff" />
<rect x="514" y="420" width="1" height="4" fill="#fff" />
<rect x="516" y="420" width="1" height="4" fill="#fff" />
<rect x="519" y="420" width="1" height="4" fill="#fff" />
<rect x="522" y="420" width="1" height="4" fill="#fff" />
<rect x="524" y="420" width="1" height="4" fill="#fff" />
<rect x="527" y="420" width="1" height="4" fill="#fff" />
<rect x="530" y="420" width="1" height="4" fill="#fff" />
<rect x="532" y="420" width="1" height="4" fill="#fff" />
<rect x="535" y="420" width="1" height="4" fill="#fff" />
<rect x="538" y="420" width="1" height="4" fill="#fff" />
<rect x="540" y="420" width="1" height="4" fill="#fff" />
<rect x="543" y="420" width="1" height="4" fill="#fff" />
<rect x="546" y="420" width="1" height="4" fill="#fff" />
<rect x="548" y="420" width="1" height="4" fill="#fff" />
<rect x="551" y="420" width="1" height="4" fill="#fff" />
<rect x="554" y="420" width="1" height="4" fill="#fff" />
<rect x="556" y="420" width="1" height="4" fill="#fff" />
<rect x="559" y="420" width="1" height="4" fill="#fff" />
<rect x="562" y="420" width="1" height="4" fill="#fff" />
<rect x="564" y="420" width="1" height="4" fill="#fff" />
<rect x="567" y="420" width="1" height="4" fill="#fff" />
<rect x="570" y="420" width="1" height="4" fill="#fff" />
<rect x="572" y="420" width="1" height="4" fill="#fff" />
<rect x="633" y="418" width="87" height="12" fill="#000" />
<rect x="636" y="420" width="1" height="4" fill="#fff" />
<rect x="639" y="420" width="1" height="4" fill="#fff" />
<rect x="642" y="420" width="1" height="4" fill="#fff" />
<rect x="644" y="420" width="1" height="4" fill="#fff" />
<rect x="647" y="420" width="1" height="4" fill="#fff" />
<rect x="650" y="420" width="1" height="4" fill="#fff" />
<rect x="652" y="420" width="1" height="4" fill="#fff" />
<rect x="655" y="420" width="1" height="4" fill="#fff" />
<rect x="658" y="420" width="1" height="4" fill="#fff" />
<rect x="660" y="420" width="1" height="4" fill="#fff" />
<rect x="663" y="420" width="1" height="4" fill="#fff" />
<rect x="666" y="420" width="1" height="4" fill="#fff" />
<rect x="668" y="420" width="1" height="4" fill="#fff" />
<rect x="671" y="420" width="1" height="4" fill="#fff" />
<rect x="674" y="420" width="1" height="4" fill="#fff" />
<rect x="676" y="420" width="1" height="4" fill="#fff" />
<rect x="679" y="420" width="1" height="4" fill="#fff" />
<rect x="682" y="420" width="1" height="4" fill="#fff" />
<rect x="684" y="420" width="1" height="4" fill="#fff" />
<rect x="687" y="420" width="1" height="4" fill="#fff" />
<rect x="690" y="420" width="1" height="4" fill="#fff" />
<rect x="692" y="420" width="1" height="4" fill="#fff" />
<rect x="695" y="420" width="1" height="4" fill="#fff" />
<rect x="698" y="420" width="1" height="4" fill="#fff" />
<rect x="700" y="420" width="1" height="4" fill="#fff" />
<rect x="703" y="420" width="1" height="4" fill="#fff" />
<rect x="706" y="420" width="1" height="4" fill="#fff" />
<rect x="708" y="420" width="1" height="4" fill="#fff" />
<rect x="711" y="420" width="1" height="4" fill="#fff" />
<rect x="714" y="420" width="1" height="4" fill="#fff" />
<rect x="716" y="420" width="1" height="4" fill="#fff" />
<rect x="722" y="419" width="11" height="1" fill="#000" />
<rect x="722" y="419" width="1" height="8" fill="#000" />
<rect x="722" y="426" width="3" height="1" fill="#000" />
<rect x="724" y="424" width="1" height="8" fill="#000" />
<rect x="724" y="424" width="7" height="1" fill="#000" />
<rect x="730" y="424" width="1" height="3" fill="#000" />
<rect x="730" y="426" width="3" height="1" fill="#000" />
<rect x="732" y="418" width="4" height="14" fill="#000" />
<rect x="736" y="419" width="7" height="1" fill="#000" />
<rect x="736" y="425" width="7" height="1" fill="#000" />
<rect x="577.15" y="416.15" width="55.2" height="15.2" rx="3.5" ry="3.5" fill="#fff" stroke="#000" stroke-width="2.3" shape-rendering="geometricPrecision"/>
<text transform="translate(581.25,427.75) scale(0.72,1)" x="0" y="0" font-size="14" textLength="63.89" lengthAdjust="spacing">BANK 3</text>
<rect x="466" y="440" width="278" height="1" fill="#000" />
<rect x="466" y="455" width="278" height="1" fill="#000" />
<rect x="466" y="440" width="1" height="16" fill="#000" />
<rect x="743" y="440" width="1" height="16" fill="#000" />
<rect x="467" y="441" width="276" height="14" fill="#fff" />
<rect x="466" y="443" width="9" height="1" fill="#000" />
<rect x="466" y="449" width="9" height="1" fill="#000" />
<rect x="474" y="440" width="1" height="16" fill="#000" />
<rect x="475" y="442" width="3" height="14" fill="#000" />
<rect x="478" y="443" width="10" height="1" fill="#000" />
<rect x="487" y="443" width="1" height="8" fill="#000" />
<rect x="484" y="450" width="4" height="1" fill="#000" />
<rect x="484" y="448" width="1" height="8" fill="#000" />
<rect x="480" y="448" width="5" height="1" fill="#000" />
<rect x="480" y="448" width="1" height="3" fill="#000" />
<rect x="478" y="450" width="3" height="1" fill="#000" />
<rect x="489" y="443" width="2" height="6" fill="#000" />
<rect x="490" y="442" width="86" height="12" fill="#000" />
<rect x="492" y="444" width="1" height="4" fill="#fff" />
<rect x="495" y="444" width="1" height="4" fill="#fff" />
<rect x="498" y="444" width="1" height="4" fill="#fff" />
<rect x="500" y="444" width="1" height="4" fill="#fff" />
<rect x="503" y="444" width="1" height="4" fill="#fff" />
<rect x="506" y="444" width="1" height="4" fill="#fff" />
<rect x="508" y="444" width="1" height="4" fill="#fff" />
<rect x="511" y="444" width="1" height="4" fill="#fff" />
<rect x="514" y="444" width="1" height="4" fill="#fff" />
<rect x="516" y="444" width="1" height="4" fill="#fff" />
<rect x="519" y="444" width="1" height="4" fill="#fff" />
<rect x="522" y="444" width="1" height="4" fill="#fff" />
<rect x="524" y="444" width="1" height="4" fill="#fff" />
<rect x="527" y="444" width="1" height="4" fill="#fff" />
<rect x="530" y="444" width="1" height="4" fill="#fff" />
<rect x="532" y="444" width="1" height="4" fill="#fff" />
<rect x="535" y="444" width="1" height="4" fill="#fff" />
<rect x="538" y="444" width="1" height="4" fill="#fff" />
<rect x="540" y="444" width="1" height="4" fill="#fff" />
<rect x="543" y="444" width="1" height="4" fill="#fff" />
<rect x="546" y="444" width="1" height="4" fill="#fff" />
<rect x="548" y="444" width="1" height="4" fill="#fff" />
<rect x="551" y="444" width="1" height="4" fill="#fff" />
<rect x="554" y="444" width="1" height="4" fill="#fff" />
<rect x="556" y="444" width="1" height="4" fill="#fff" />
<rect x="559" y="444" width="1" height="4" fill="#fff" />
<rect x="562" y="444" width="1" height="4" fill="#fff" />
<rect x="564" y="444" width="1" height="4" fill="#fff" />
<rect x="567" y="444" width="1" height="4" fill="#fff" />
<rect x="570" y="444" width="1" height="4" fill="#fff" />
<rect x="572" y="444" width="1" height="4" fill="#fff" />
<rect x="633" y="442" width="87" height="12" fill="#000" />
<rect x="636" y="444" width="1" height="4" fill="#fff" />
<rect x="639" y="444" width="1" height="4" fill="#fff" />
<rect x="642" y="444" width="1" height="4" fill="#fff" />
<rect x="644" y="444" width="1" height="4" fill="#fff" />
<rect x="647" y="444" width="1" height="4" fill="#fff" />
<rect x="650" y="444" width="1" height="4" fill="#fff" />
<rect x="652" y="444" width="1" height="4" fill="#fff" />
<rect x="655" y="444" width="1" height="4" fill="#fff" />
<rect x="658" y="444" width="1" height="4" fill="#fff" />
<rect x="660" y="444" width="1" height="4" fill="#fff" />
<rect x="663" y="444" width="1" height="4" fill="#fff" />
<rect x="666" y="444" width="1" height="4" fill="#fff" />
<rect x="668" y="444" width="1" height="4" fill="#fff" />
<rect x="671" y="444" width="1" height="4" fill="#fff" />
<rect x="674" y="444" width="1" height="4" fill="#fff" />
<rect x="676" y="444" width="1" height="4" fill="#fff" />
<rect x="679" y="444" width="1" height="4" fill="#fff" />
<rect x="682" y="444" width="1" height="4" fill="#fff" />
<rect x="684" y="444" width="1" height="4" fill="#fff" />
<rect x="687" y="444" width="1" height="4" fill="#fff" />
<rect x="690" y="444" width="1" height="4" fill="#fff" />
<rect x="692" y="444" width="1" height="4" fill="#fff" />
<rect x="695" y="444" width="1" height="4" fill="#fff" />
<rect x="698" y="444" width="1" height="4" fill="#fff" />
<rect x="700" y="444" width="1" height="4" fill="#fff" />
<rect x="703" y="444" width="1" height="4" fill="#fff" />
<rect x="706" y="444" width="1" height="4" fill="#fff" />
<rect x="708" y="444" width="1" height="4" fill="#fff" />
<rect x="711" y="444" width="1" height="4" fill="#fff" />
<rect x="714" y="444" width="1" height="4" fill="#fff" />
<rect x="716" y="444" width="1" height="4" fill="#fff" />
<rect x="722" y="443" width="11" height="1" fill="#000" />
<rect x="722" y="443" width="1" height="8" fill="#000" />
<rect x="722" y="450" width="3" height="1" fill="#000" />
<rect x="724" y="448" width="1" height="8" fill="#000" />
<rect x="724" y="448" width="7" height="1" fill="#000" />
<rect x="730" y="448" width="1" height="3" fill="#000" />
<rect x="730" y="450" width="3" height="1" fill="#000" />
<rect x="732" y="442" width="4" height="14" fill="#000" />
<rect x="736" y="443" width="7" height="1" fill="#000" />
<rect x="736" y="449" width="7" height="1" fill="#000" />
<rect x="577.15" y="440.15" width="55.2" height="15.2" rx="3.5" ry="3.5" fill="#fff" stroke="#000" stroke-width="2.3" shape-rendering="geometricPrecision"/>
<text transform="translate(581.25,451.75) scale(0.72,1)" x="0" y="0" font-size="14" textLength="63.89" lengthAdjust="spacing">BANK 2</text>
<rect x="466" y="466" width="278" height="1" fill="#000" />
<rect x="466" y="481" width="278" height="1" fill="#000" />
<rect x="466" y="466" width="1" height="16" fill="#000" />
<rect x="743" y="466" width="1" height="16" fill="#000" />
<rect x="467" y="467" width="276" height="14" fill="#fff" />
<rect x="466" y="469" width="9" height="1" fill="#000" />
<rect x="466" y="475" width="9" height="1" fill="#000" />
<rect x="474" y="466" width="1" height="16" fill="#000" />
<rect x="475" y="468" width="3" height="14" fill="#000" />
<rect x="478" y="469" width="10" height="1" fill="#000" />
<rect x="487" y="469" width="1" height="8" fill="#000" />
<rect x="484" y="476" width="4" height="1" fill="#000" />
<rect x="484" y="474" width="1" height="8" fill="#000" />
<rect x="480" y="474" width="5" height="1" fill="#000" />
<rect x="480" y="474" width="1" height="3" fill="#000" />
<rect x="478" y="476" width="3" height="1" fill="#000" />
<rect x="489" y="469" width="2" height="6" fill="#000" />
<rect x="490" y="468" width="86" height="12" fill="#000" />
<rect x="492" y="470" width="1" height="4" fill="#fff" />
<rect x="495" y="470" width="1" height="4" fill="#fff" />
<rect x="498" y="470" width="1" height="4" fill="#fff" />
<rect x="500" y="470" width="1" height="4" fill="#fff" />
<rect x="503" y="470" width="1" height="4" fill="#fff" />
<rect x="506" y="470" width="1" height="4" fill="#fff" />
<rect x="508" y="470" width="1" height="4" fill="#fff" />
<rect x="511" y="470" width="1" height="4" fill="#fff" />
<rect x="514" y="470" width="1" height="4" fill="#fff" />
<rect x="516" y="470" width="1" height="4" fill="#fff" />
<rect x="519" y="470" width="1" height="4" fill="#fff" />
<rect x="522" y="470" width="1" height="4" fill="#fff" />
<rect x="524" y="470" width="1" height="4" fill="#fff" />
<rect x="527" y="470" width="1" height="4" fill="#fff" />
<rect x="530" y="470" width="1" height="4" fill="#fff" />
<rect x="532" y="470" width="1" height="4" fill="#fff" />
<rect x="535" y="470" width="1" height="4" fill="#fff" />
<rect x="538" y="470" width="1" height="4" fill="#fff" />
<rect x="540" y="470" width="1" height="4" fill="#fff" />
<rect x="543" y="470" width="1" height="4" fill="#fff" />
<rect x="546" y="470" width="1" height="4" fill="#fff" />
<rect x="548" y="470" width="1" height="4" fill="#fff" />
<rect x="551" y="470" width="1" height="4" fill="#fff" />
<rect x="554" y="470" width="1" height="4" fill="#fff" />
<rect x="556" y="470" width="1" height="4" fill="#fff" />
<rect x="559" y="470" width="1" height="4" fill="#fff" />
<rect x="562" y="470" width="1" height="4" fill="#fff" />
<rect x="564" y="470" width="1" height="4" fill="#fff" />
<rect x="567" y="470" width="1" height="4" fill="#fff" />
<rect x="570" y="470" width="1" height="4" fill="#fff" />
<rect x="572" y="470" width="1" height="4" fill="#fff" />
<rect x="633" y="468" width="87" height="12" fill="#000" />
<rect x="636" y="470" width="1" height="4" fill="#fff" />
<rect x="639" y="470" width="1" height="4" fill="#fff" />
<rect x="642" y="470" width="1" height="4" fill="#fff" />
<rect x="644" y="470" width="1" height="4" fill="#fff" />
<rect x="647" y="470" width="1" height="4" fill="#fff" />
<rect x="650" y="470" width="1" height="4" fill="#fff" />
<rect x="652" y="470" width="1" height="4" fill="#fff" />
<rect x="655" y="470" width="1" height="4" fill="#fff" />
<rect x="658" y="470" width="1" height="4" fill="#fff" />
<rect x="660" y="470" width="1" height="4" fill="#fff" />
<rect x="663" y="470" width="1" height="4" fill="#fff" />
<rect x="666" y="470" width="1" height="4" fill="#fff" />
<rect x="668" y="470" width="1" height="4" fill="#fff" />
<rect x="671" y="470" width="1" height="4" fill="#fff" />
<rect x="674" y="470" width="1" height="4" fill="#fff" />
<rect x="676" y="470" width="1" height="4" fill="#fff" />
<rect x="679" y="470" width="1" height="4" fill="#fff" />
<rect x="682" y="470" width="1" height="4" fill="#fff" />
<rect x="684" y="470" width="1" height="4" fill="#fff" />
<rect x="687" y="470" width="1" height="4" fill="#fff" />
<rect x="690" y="470" width="1" height="4" fill="#fff" />
<rect x="692" y="470" width="1" height="4" fill="#fff" />
<rect x="695" y="470" width="1" height="4" fill="#fff" />
<rect x="698" y="470" width="1" height="4" fill="#fff" />
<rect x="700" y="470" width="1" height="4" fill="#fff" />
<rect x="703" y="470" width="1" height="4" fill="#fff" />
<rect x="706" y="470" width="1" height="4" fill="#fff" />
<rect x="708" y="470" width="1" height="4" fill="#fff" />
<rect x="711" y="470" width="1" height="4" fill="#fff" />
<rect x="714" y="470" width="1" height="4" fill="#fff" />
<rect x="716" y="470" width="1" height="4" fill="#fff" />
<rect x="722" y="469" width="11" height="1" fill="#000" />
<rect x="722" y="469" width="1" height="8" fill="#000" />
<rect x="722" y="476" width="3" height="1" fill="#000" />
<rect x="724" y="474" width="1" height="8" fill="#000" />
<rect x="724" y="474" width="7" height="1" fill="#000" />
<rect x="730" y="474" width="1" height="3" fill="#000" />
<rect x="730" y="476" width="3" height="1" fill="#000" />
<rect x="732" y="468" width="4" height="14" fill="#000" />
<rect x="736" y="469" width="7" height="1" fill="#000" />
<rect x="736" y="475" width="7" height="1" fill="#000" />
<rect x="577.15" y="466.15" width="55.2" height="15.2" rx="3.5" ry="3.5" fill="#fff" stroke="#000" stroke-width="2.3" shape-rendering="geometricPrecision"/>
<text transform="translate(581.25,477.75) scale(0.72,1)" x="0" y="0" font-size="14" textLength="63.89" lengthAdjust="spacing">BANK 1</text>
<rect x="466" y="491" width="278" height="1" fill="#000" />
<rect x="466" y="506" width="278" height="1" fill="#000" />
<rect x="466" y="491" width="1" height="16" fill="#000" />
<rect x="743" y="491" width="1" height="16" fill="#000" />
<rect x="467" y="492" width="276" height="14" fill="#fff" />
<rect x="466" y="494" width="9" height="1" fill="#000" />
<rect x="466" y="500" width="9" height="1" fill="#000" />
<rect x="474" y="491" width="1" height="16" fill="#000" />
<rect x="475" y="493" width="3" height="14" fill="#000" />
<rect x="478" y="494" width="10" height="1" fill="#000" />
<rect x="487" y="494" width="1" height="8" fill="#000" />
<rect x="484" y="501" width="4" height="1" fill="#000" />
<rect x="484" y="499" width="1" height="8" fill="#000" />
<rect x="480" y="499" width="5" height="1" fill="#000" />
<rect x="480" y="499" width="1" height="3" fill="#000" />
<rect x="478" y="501" width="3" height="1" fill="#000" />
<rect x="489" y="494" width="2" height="6" fill="#000" />
<rect x="490" y="493" width="86" height="12" fill="#000" />
<rect x="492" y="495" width="1" height="4" fill="#fff" />
<rect x="495" y="495" width="1" height="4" fill="#fff" />
<rect x="498" y="495" width="1" height="4" fill="#fff" />
<rect x="500" y="495" width="1" height="4" fill="#fff" />
<rect x="503" y="495" width="1" height="4" fill="#fff" />
<rect x="506" y="495" width="1" height="4" fill="#fff" />
<rect x="508" y="495" width="1" height="4" fill="#fff" />
<rect x="511" y="495" width="1" height="4" fill="#fff" />
<rect x="514" y="495" width="1" height="4" fill="#fff" />
<rect x="516" y="495" width="1" height="4" fill="#fff" />
<rect x="519" y="495" width="1" height="4" fill="#fff" />
<rect x="522" y="495" width="1" height="4" fill="#fff" />
<rect x="524" y="495" width="1" height="4" fill="#fff" />
<rect x="527" y="495" width="1" height="4" fill="#fff" />
<rect x="530" y="495" width="1" height="4" fill="#fff" />
<rect x="532" y="495" width="1" height="4" fill="#fff" />
<rect x="535" y="495" width="1" height="4" fill="#fff" />
<rect x="538" y="495" width="1" height="4" fill="#fff" />
<rect x="540" y="495" width="1" height="4" fill="#fff" />
<rect x="543" y="495" width="1" height="4" fill="#fff" />
<rect x="546" y="495" width="1" height="4" fill="#fff" />
<rect x="548" y="495" width="1" height="4" fill="#fff" />
<rect x="551" y="495" width="1" height="4" fill="#fff" />
<rect x="554" y="495" width="1" height="4" fill="#fff" />
<rect x="556" y="495" width="1" height="4" fill="#fff" />
<rect x="559" y="495" width="1" height="4" fill="#fff" />
<rect x="562" y="495" width="1" height="4" fill="#fff" />
<rect x="564" y="495" width="1" height="4" fill="#fff" />
<rect x="567" y="495" width="1" height="4" fill="#fff" />
<rect x="570" y="495" width="1" height="4" fill="#fff" />
<rect x="572" y="495" width="1" height="4" fill="#fff" />
<rect x="633" y="493" width="87" height="12" fill="#000" />
<rect x="636" y="495" width="1" height="4" fill="#fff" />
<rect x="639" y="495" width="1" height="4" fill="#fff" />
<rect x="642" y="495" width="1" height="4" fill="#fff" />
<rect x="644" y="495" width="1" height="4" fill="#fff" />
<rect x="647" y="495" width="1" height="4" fill="#fff" />
<rect x="650" y="495" width="1" height="4" fill="#fff" />
<rect x="652" y="495" width="1" height="4" fill="#fff" />
<rect x="655" y="495" width="1" height="4" fill="#fff" />
<rect x="658" y="495" width="1" height="4" fill="#fff" />
<rect x="660" y="495" width="1" height="4" fill="#fff" />
<rect x="663" y="495" width="1" height="4" fill="#fff" />
<rect x="666" y="495" width="1" height="4" fill="#fff" />
<rect x="668" y="495" width="1" height="4" fill="#fff" />
<rect x="671" y="495" width="1" height="4" fill="#fff" />
<rect x="674" y="495" width="1" height="4" fill="#fff" />
<rect x="676" y="495" width="1" height="4" fill="#fff" />
<rect x="679" y="495" width="1" height="4" fill="#fff" />
<rect x="682" y="495" width="1" height="4" fill="#fff" />
<rect x="684" y="495" width="1" height="4" fill="#fff" />
<rect x="687" y="495" width="1" height="4" fill="#fff" />
<rect x="690" y="495" width="1" height="4" fill="#fff" />
<rect x="692" y="495" width="1" height="4" fill="#fff" />
<rect x="695" y="495" width="1" height="4" fill="#fff" />
<rect x="698" y="495" width="1" height="4" fill="#fff" />
<rect x="700" y="495" width="1" height="4" fill="#fff" />
<rect x="703" y="495" width="1" height="4" fill="#fff" />
<rect x="706" y="495" width="1" height="4" fill="#fff" />
<rect x="708" y="495" width="1" height="4" fill="#fff" />
<rect x="711" y="495" width="1" height="4" fill="#fff" />
<rect x="714" y="495" width="1" height="4" fill="#fff" />
<rect x="716" y="495" width="1" height="4" fill="#fff" />
<rect x="722" y="494" width="11" height="1" fill="#000" />
<rect x="722" y="494" width="1" height="8" fill="#000" />
<rect x="722" y="501" width="3" height="1" fill="#000" />
<rect x="724" y="499" width="1" height="8" fill="#000" />
<rect x="724" y="499" width="7" height="1" fill="#000" />
<rect x="730" y="499" width="1" height="3" fill="#000" />
<rect x="730" y="501" width="3" height="1" fill="#000" />
<rect x="732" y="493" width="4" height="14" fill="#000" />
<rect x="736" y="494" width="7" height="1" fill="#000" />
<rect x="736" y="500" width="7" height="1" fill="#000" />
<rect x="577.15" y="491.15" width="55.2" height="15.2" rx="3.5" ry="3.5" fill="#fff" stroke="#000" stroke-width="2.3" shape-rendering="geometricPrecision"/>
<text transform="translate(581.25,502.75) scale(0.72,1)" x="0" y="0" font-size="14" textLength="63.89" lengthAdjust="spacing">BANK 0</text>
<rect x="757" y="401" width="25" height="113" fill="#000" />
<rect x="758" y="402" width="23" height="111" fill="#fff" />
<rect x="765" y="402" width="1" height="111" fill="#000" />
<rect x="770" y="402" width="1" height="111" fill="#000" />
<rect x="762" y="403" width="3" height="8" fill="#000" />
<rect x="760" y="405" width="5" height="2" fill="#000" />
<rect x="760" y="408" width="5" height="2" fill="#000" />
<rect x="761" y="407" width="1" height="1" fill="#000" />
<rect x="767" y="404" width="2" height="7" fill="#000" />
<rect x="762" y="412" width="3" height="8" fill="#000" />
<rect x="760" y="414" width="5" height="2" fill="#000" />
<rect x="760" y="417" width="5" height="2" fill="#000" />
<rect x="761" y="416" width="1" height="1" fill="#000" />
<rect x="767" y="413" width="2" height="7" fill="#000" />
<rect x="762" y="421" width="3" height="8" fill="#000" />
<rect x="760" y="423" width="5" height="2" fill="#000" />
<rect x="760" y="426" width="5" height="2" fill="#000" />
<rect x="761" y="425" width="1" height="1" fill="#000" />
<rect x="767" y="422" width="2" height="7" fill="#000" />
<rect x="762" y="430" width="3" height="8" fill="#000" />
<rect x="760" y="432" width="5" height="2" fill="#000" />
<rect x="760" y="435" width="5" height="2" fill="#000" />
<rect x="761" y="434" width="1" height="1" fill="#000" />
<rect x="767" y="431" width="2" height="7" fill="#000" />
<rect x="762" y="439" width="3" height="8" fill="#000" />
<rect x="760" y="441" width="5" height="2" fill="#000" />
<rect x="760" y="444" width="5" height="2" fill="#000" />
<rect x="761" y="443" width="1" height="1" fill="#000" />
<rect x="767" y="440" width="2" height="7" fill="#000" />
<rect x="762" y="448" width="3" height="8" fill="#000" />
<rect x="760" y="450" width="5" height="2" fill="#000" />
<rect x="760" y="453" width="5" height="2" fill="#000" />
<rect x="761" y="452" width="1" height="1" fill="#000" />
<rect x="767" y="449" width="2" height="7" fill="#000" />
<rect x="762" y="457" width="3" height="8" fill="#000" />
<rect x="760" y="459" width="5" height="2" fill="#000" />
<rect x="760" y="462" width="5" height="2" fill="#000" />
<rect x="761" y="461" width="1" height="1" fill="#000" />
<rect x="767" y="458" width="2" height="7" fill="#000" />
<rect x="762" y="466" width="3" height="8" fill="#000" />
<rect x="760" y="468" width="5" height="2" fill="#000" />
<rect x="760" y="471" width="5" height="2" fill="#000" />
<rect x="761" y="470" width="1" height="1" fill="#000" />
<rect x="767" y="467" width="2" height="7" fill="#000" />
<rect x="762" y="475" width="3" height="8" fill="#000" />
<rect x="760" y="477" width="5" height="2" fill="#000" />
<rect x="760" y="480" width="5" height="2" fill="#000" />
<rect x="761" y="479" width="1" height="1" fill="#000" />
<rect x="767" y="476" width="2" height="7" fill="#000" />
<rect x="762" y="485" width="3" height="8" fill="#000" />
<rect x="760" y="487" width="5" height="2" fill="#000" />
<rect x="760" y="490" width="5" height="2" fill="#000" />
<rect x="761" y="489" width="1" height="1" fill="#000" />
<rect x="767" y="486" width="2" height="7" fill="#000" />
<rect x="762" y="494" width="3" height="8" fill="#000" />
<rect x="760" y="496" width="5" height="2" fill="#000" />
<rect x="760" y="499" width="5" height="2" fill="#000" />
<rect x="761" y="498" width="1" height="1" fill="#000" />
<rect x="767" y="495" width="2" height="7" fill="#000" />
<rect x="762" y="503" width="3" height="8" fill="#000" />
<rect x="760" y="505" width="5" height="2" fill="#000" />
<rect x="760" y="508" width="5" height="2" fill="#000" />
<rect x="761" y="507" width="1" height="1" fill="#000" />
<rect x="767" y="504" width="2" height="7" fill="#000" />
<rect x="771" y="408" width="7" height="7" fill="#000" />
<rect x="772" y="409" width="5" height="5" fill="#fff" />
<rect x="771" y="417" width="7" height="7" fill="#000" />
<rect x="772" y="418" width="5" height="5" fill="#fff" />
<rect x="771" y="426" width="7" height="7" fill="#000" />
<rect x="772" y="427" width="5" height="5" fill="#fff" />
<rect x="771" y="435" width="7" height="7" fill="#000" />
<rect x="772" y="436" width="5" height="5" fill="#fff" />
<rect x="771" y="444" width="7" height="7" fill="#000" />
<rect x="772" y="445" width="5" height="5" fill="#fff" />
<rect x="771" y="453" width="7" height="7" fill="#000" />
<rect x="772" y="454" width="5" height="5" fill="#fff" />
<rect x="771" y="462" width="7" height="7" fill="#000" />
<rect x="772" y="463" width="5" height="5" fill="#fff" />
<rect x="771" y="471" width="7" height="7" fill="#000" />
<rect x="772" y="472" width="5" height="5" fill="#fff" />
<rect x="771" y="480" width="7" height="7" fill="#000" />
<rect x="772" y="481" width="5" height="5" fill="#fff" />
<rect x="771" y="489" width="7" height="7" fill="#000" />
<rect x="772" y="490" width="5" height="5" fill="#fff" />
<rect x="771" y="498" width="7" height="7" fill="#000" />
<rect x="772" y="499" width="5" height="5" fill="#fff" />
<rect x="771" y="402" width="7" height="4" fill="#000" />
<rect x="772" y="402" width="5" height="3" fill="#fff" />
<rect x="773" y="402" width="3" height="1" fill="#000" />
<rect x="771" y="509" width="7" height="4" fill="#000" />
<rect x="772" y="510" width="5" height="3" fill="#fff" />
<rect x="773" y="512" width="3" height="1" fill="#000" />
<rect x="796.8" y="444.8" width="29.200000000000045" height="36.5" fill="#000" />
<rect x="793.8" y="451.5" width="3.2000000000000455" height="23.30000000000001" fill="#000" />
<rect x="821.2" y="437.9" width="4.7999999999999545" height="50.700000000000045" fill="#000" />
<rect x="818" y="440" width="4" height="46" fill="#000" />
<rect x="790.5" y="453.5" width="4" height="7" fill="#fff" stroke="#000" stroke-width="1"/>
<rect x="790.5" y="465" width="4" height="7" fill="#fff" stroke="#000" stroke-width="1"/>
<rect x="53" y="375" width="98" height="26.5" fill="#000" />
<rect x="56" y="377" width="4" height="5" fill="#fff" />
<rect x="62" y="377" width="4" height="5" fill="#fff" />
<rect x="68" y="377" width="4" height="5" fill="#fff" />
<rect x="74" y="377" width="4" height="5" fill="#fff" />
<rect x="80" y="377" width="4" height="5" fill="#fff" />
<rect x="86" y="377" width="4" height="5" fill="#fff" />
<rect x="92" y="377" width="4" height="5" fill="#fff" />
<rect x="98" y="377" width="4" height="5" fill="#fff" />
<rect x="104" y="377" width="4" height="5" fill="#fff" />
<rect x="110" y="377" width="4" height="5" fill="#fff" />
<rect x="116" y="377" width="4" height="5" fill="#fff" />
<rect x="122" y="377" width="4" height="5" fill="#fff" />
<rect x="128" y="377" width="4" height="5" fill="#fff" />
<rect x="134" y="377" width="4" height="5" fill="#fff" />
<rect x="140" y="377" width="4" height="5" fill="#fff" />
<rect x="146" y="377" width="4" height="5" fill="#fff" />
<rect x="56" y="387.5" width="4" height="5.0" fill="#fff" />
<rect x="62" y="387.5" width="4" height="5.0" fill="#fff" />
<rect x="68" y="387.5" width="4" height="5.0" fill="#fff" />
<rect x="74" y="387.5" width="4" height="5.0" fill="#fff" />
<rect x="80" y="387.5" width="4" height="5.0" fill="#fff" />
<rect x="86" y="387.5" width="4" height="5.0" fill="#fff" />
<rect x="92" y="387.5" width="4" height="5.0" fill="#fff" />
<rect x="98" y="387.5" width="4" height="5.0" fill="#fff" />
<rect x="104" y="387.5" width="4" height="5.0" fill="#fff" />
<rect x="110" y="387.5" width="4" height="5.0" fill="#fff" />
<rect x="116" y="387.5" width="4" height="5.0" fill="#fff" />
<rect x="122" y="387.5" width="4" height="5.0" fill="#fff" />
<rect x="128" y="387.5" width="4" height="5.0" fill="#fff" />
<rect x="134" y="387.5" width="4" height="5.0" fill="#fff" />
<rect x="56" y="395.0" width="4" height="5.0" fill="#fff" />
<rect x="62" y="395.0" width="4" height="5.0" fill="#fff" />
<rect x="68" y="395.0" width="4" height="5.0" fill="#fff" />
<rect x="74" y="395.0" width="4" height="5.0" fill="#fff" />
<rect x="80" y="395.0" width="4" height="5.0" fill="#fff" />
<rect x="86" y="395.0" width="4" height="5.0" fill="#fff" />
<rect x="92" y="395.0" width="4" height="5.0" fill="#fff" />
<rect x="98" y="395.0" width="4" height="5.0" fill="#fff" />
<rect x="104" y="395.0" width="4" height="5.0" fill="#fff" />
<rect x="110" y="395.0" width="4" height="5.0" fill="#fff" />
<rect x="116" y="395.0" width="4" height="5.0" fill="#fff" />
<rect x="122" y="395.0" width="4" height="5.0" fill="#fff" />
<rect x="128" y="395.0" width="4" height="5.0" fill="#fff" />
<rect x="134" y="395.0" width="4" height="5.0" fill="#fff" />
<rect x="140" y="395.0" width="4" height="5.0" fill="#fff" />
<rect x="146" y="395.0" width="4" height="5.0" fill="#fff" />
<circle shape-rendering="geometricPrecision" cx="151.5" cy="388.5" r="2.5" fill="#fff"/>
<rect x="53" y="405" width="98" height="28" fill="#000" />
<rect x="56" y="407" width="4" height="5" fill="#fff" />
<rect x="62" y="407" width="4" height="5" fill="#fff" />
<rect x="68" y="407" width="4" height="5" fill="#fff" />
<rect x="74" y="407" width="4" height="5" fill="#fff" />
<rect x="80" y="407" width="4" height="5" fill="#fff" />
<rect x="86" y="407" width="4" height="5" fill="#fff" />
<rect x="92" y="407" width="4" height="5" fill="#fff" />
<rect x="98" y="407" width="4" height="5" fill="#fff" />
<rect x="104" y="407" width="4" height="5" fill="#fff" />
<rect x="110" y="407" width="4" height="5" fill="#fff" />
<rect x="116" y="407" width="4" height="5" fill="#fff" />
<rect x="122" y="407" width="4" height="5" fill="#fff" />
<rect x="128" y="407" width="4" height="5" fill="#fff" />
<rect x="134" y="407" width="4" height="5" fill="#fff" />
<rect x="140" y="407" width="4" height="5" fill="#fff" />
<rect x="146" y="407" width="4" height="5" fill="#fff" />
<rect x="56" y="417.5" width="4" height="5.0" fill="#fff" />
<rect x="62" y="417.5" width="4" height="5.0" fill="#fff" />
<rect x="68" y="417.5" width="4" height="5.0" fill="#fff" />
<rect x="74" y="417.5" width="4" height="5.0" fill="#fff" />
<rect x="80" y="417.5" width="4" height="5.0" fill="#fff" />
<rect x="86" y="417.5" width="4" height="5.0" fill="#fff" />
<rect x="92" y="417.5" width="4" height="5.0" fill="#fff" />
<rect x="98" y="417.5" width="4" height="5.0" fill="#fff" />
<rect x="104" y="417.5" width="4" height="5.0" fill="#fff" />
<rect x="110" y="417.5" width="4" height="5.0" fill="#fff" />
<rect x="116" y="417.5" width="4" height="5.0" fill="#fff" />
<rect x="122" y="417.5" width="4" height="5.0" fill="#fff" />
<rect x="128" y="417.5" width="4" height="5.0" fill="#fff" />
<rect x="134" y="417.5" width="4" height="5.0" fill="#fff" />
<rect x="56" y="426.5" width="4" height="5.0" fill="#fff" />
<rect x="62" y="426.5" width="4" height="5.0" fill="#fff" />
<rect x="68" y="426.5" width="4" height="5.0" fill="#fff" />
<rect x="74" y="426.5" width="4" height="5.0" fill="#fff" />
<rect x="80" y="426.5" width="4" height="5.0" fill="#fff" />
<rect x="86" y="426.5" width="4" height="5.0" fill="#fff" />
<rect x="92" y="426.5" width="4" height="5.0" fill="#fff" />
<rect x="98" y="426.5" width="4" height="5.0" fill="#fff" />
<rect x="104" y="426.5" width="4" height="5.0" fill="#fff" />
<rect x="110" y="426.5" width="4" height="5.0" fill="#fff" />
<rect x="116" y="426.5" width="4" height="5.0" fill="#fff" />
<rect x="122" y="426.5" width="4" height="5.0" fill="#fff" />
<rect x="128" y="426.5" width="4" height="5.0" fill="#fff" />
<rect x="134" y="426.5" width="4" height="5.0" fill="#fff" />
<rect x="140" y="426.5" width="4" height="5.0" fill="#fff" />
<rect x="146" y="426.5" width="4" height="5.0" fill="#fff" />
<circle shape-rendering="geometricPrecision" cx="151.5" cy="418.5" r="2.5" fill="#fff"/>
<rect x="53" y="434.5" width="98" height="28.5" fill="#000" />
<rect x="56" y="436.5" width="4" height="5.0" fill="#fff" />
<rect x="62" y="436.5" width="4" height="5.0" fill="#fff" />
<rect x="68" y="436.5" width="4" height="5.0" fill="#fff" />
<rect x="74" y="436.5" width="4" height="5.0" fill="#fff" />
<rect x="80" y="436.5" width="4" height="5.0" fill="#fff" />
<rect x="86" y="436.5" width="4" height="5.0" fill="#fff" />
<rect x="92" y="436.5" width="4" height="5.0" fill="#fff" />
<rect x="98" y="436.5" width="4" height="5.0" fill="#fff" />
<rect x="104" y="436.5" width="4" height="5.0" fill="#fff" />
<rect x="110" y="436.5" width="4" height="5.0" fill="#fff" />
<rect x="116" y="436.5" width="4" height="5.0" fill="#fff" />
<rect x="122" y="436.5" width="4" height="5.0" fill="#fff" />
<rect x="128" y="436.5" width="4" height="5.0" fill="#fff" />
<rect x="134" y="436.5" width="4" height="5.0" fill="#fff" />
<rect x="140" y="436.5" width="4" height="5.0" fill="#fff" />
<rect x="146" y="436.5" width="4" height="5.0" fill="#fff" />
<rect x="56" y="447.0" width="4" height="5.0" fill="#fff" />
<rect x="62" y="447.0" width="4" height="5.0" fill="#fff" />
<rect x="68" y="447.0" width="4" height="5.0" fill="#fff" />
<rect x="74" y="447.0" width="4" height="5.0" fill="#fff" />
<rect x="80" y="447.0" width="4" height="5.0" fill="#fff" />
<rect x="86" y="447.0" width="4" height="5.0" fill="#fff" />
<rect x="92" y="447.0" width="4" height="5.0" fill="#fff" />
<rect x="98" y="447.0" width="4" height="5.0" fill="#fff" />
<rect x="104" y="447.0" width="4" height="5.0" fill="#fff" />
<rect x="110" y="447.0" width="4" height="5.0" fill="#fff" />
<rect x="116" y="447.0" width="4" height="5.0" fill="#fff" />
<rect x="122" y="447.0" width="4" height="5.0" fill="#fff" />
<rect x="128" y="447.0" width="4" height="5.0" fill="#fff" />
<rect x="134" y="447.0" width="4" height="5.0" fill="#fff" />
<rect x="56" y="456.5" width="4" height="5.0" fill="#fff" />
<rect x="62" y="456.5" width="4" height="5.0" fill="#fff" />
<rect x="68" y="456.5" width="4" height="5.0" fill="#fff" />
<rect x="74" y="456.5" width="4" height="5.0" fill="#fff" />
<rect x="80" y="456.5" width="4" height="5.0" fill="#fff" />
<rect x="86" y="456.5" width="4" height="5.0" fill="#fff" />
<rect x="92" y="456.5" width="4" height="5.0" fill="#fff" />
<rect x="98" y="456.5" width="4" height="5.0" fill="#fff" />
<rect x="104" y="456.5" width="4" height="5.0" fill="#fff" />
<rect x="110" y="456.5" width="4" height="5.0" fill="#fff" />
<rect x="116" y="456.5" width="4" height="5.0" fill="#fff" />
<rect x="122" y="456.5" width="4" height="5.0" fill="#fff" />
<rect x="128" y="456.5" width="4" height="5.0" fill="#fff" />
<rect x="134" y="456.5" width="4" height="5.0" fill="#fff" />
<rect x="140" y="456.5" width="4" height="5.0" fill="#fff" />
<rect x="146" y="456.5" width="4" height="5.0" fill="#fff" />
<circle shape-rendering="geometricPrecision" cx="151.5" cy="448.0" r="2.5" fill="#fff"/>
<rect x="53" y="465" width="98" height="27.5" fill="#000" />
<rect x="56" y="467" width="4" height="5" fill="#fff" />
<rect x="62" y="467" width="4" height="5" fill="#fff" />
<rect x="68" y="467" width="4" height="5" fill="#fff" />
<rect x="74" y="467" width="4" height="5" fill="#fff" />
<rect x="80" y="467" width="4" height="5" fill="#fff" />
<rect x="86" y="467" width="4" height="5" fill="#fff" />
<rect x="92" y="467" width="4" height="5" fill="#fff" />
<rect x="98" y="467" width="4" height="5" fill="#fff" />
<rect x="104" y="467" width="4" height="5" fill="#fff" />
<rect x="110" y="467" width="4" height="5" fill="#fff" />
<rect x="116" y="467" width="4" height="5" fill="#fff" />
<rect x="122" y="467" width="4" height="5" fill="#fff" />
<rect x="128" y="467" width="4" height="5" fill="#fff" />
<rect x="134" y="467" width="4" height="5" fill="#fff" />
<rect x="140" y="467" width="4" height="5" fill="#fff" />
<rect x="146" y="467" width="4" height="5" fill="#fff" />
<rect x="56" y="477.5" width="4" height="5.0" fill="#fff" />
<rect x="62" y="477.5" width="4" height="5.0" fill="#fff" />
<rect x="68" y="477.5" width="4" height="5.0" fill="#fff" />
<rect x="74" y="477.5" width="4" height="5.0" fill="#fff" />
<rect x="80" y="477.5" width="4" height="5.0" fill="#fff" />
<rect x="86" y="477.5" width="4" height="5.0" fill="#fff" />
<rect x="92" y="477.5" width="4" height="5.0" fill="#fff" />
<rect x="98" y="477.5" width="4" height="5.0" fill="#fff" />
<rect x="104" y="477.5" width="4" height="5.0" fill="#fff" />
<rect x="110" y="477.5" width="4" height="5.0" fill="#fff" />
<rect x="116" y="477.5" width="4" height="5.0" fill="#fff" />
<rect x="122" y="477.5" width="4" height="5.0" fill="#fff" />
<rect x="128" y="477.5" width="4" height="5.0" fill="#fff" />
<rect x="134" y="477.5" width="4" height="5.0" fill="#fff" />
<rect x="56" y="486.0" width="4" height="5.0" fill="#fff" />
<rect x="62" y="486.0" width="4" height="5.0" fill="#fff" />
<rect x="68" y="486.0" width="4" height="5.0" fill="#fff" />
<rect x="74" y="486.0" width="4" height="5.0" fill="#fff" />
<rect x="80" y="486.0" width="4" height="5.0" fill="#fff" />
<rect x="86" y="486.0" width="4" height="5.0" fill="#fff" />
<rect x="92" y="486.0" width="4" height="5.0" fill="#fff" />
<rect x="98" y="486.0" width="4" height="5.0" fill="#fff" />
<rect x="104" y="486.0" width="4" height="5.0" fill="#fff" />
<rect x="110" y="486.0" width="4" height="5.0" fill="#fff" />
<rect x="116" y="486.0" width="4" height="5.0" fill="#fff" />
<rect x="122" y="486.0" width="4" height="5.0" fill="#fff" />
<rect x="128" y="486.0" width="4" height="5.0" fill="#fff" />
<rect x="134" y="486.0" width="4" height="5.0" fill="#fff" />
<rect x="140" y="486.0" width="4" height="5.0" fill="#fff" />
<rect x="146" y="486.0" width="4" height="5.0" fill="#fff" />
<circle shape-rendering="geometricPrecision" cx="151.5" cy="478.5" r="2.5" fill="#fff"/>
<rect x="53" y="433" width="98" height="1.5" fill="#fff" />
<rect x="74.15" y="427.15" width="55.7" height="13.7" rx="3.5" ry="3.5" fill="#fff" stroke="#000" stroke-width="2.3" shape-rendering="geometricPrecision"/>
<text transform="translate(78.50,438.00) scale(0.72,1)" x="0" y="0" font-size="14" textLength="63.89" lengthAdjust="spacing">BANK 0</text>
<rect x="154" y="332.1" width="83.75" height="23.5" fill="#000" />
<rect x="156.5" y="334.1" width="3.5" height="5.0" fill="#fff" />
<rect x="156.5" y="349.1" width="3.5" height="5.0" fill="#fff" />
<rect x="162.5" y="334.1" width="3.5" height="5.0" fill="#fff" />
<rect x="162.5" y="349.1" width="3.5" height="5.0" fill="#fff" />
<rect x="168.5" y="334.1" width="3.5" height="5.0" fill="#fff" />
<rect x="168.5" y="349.1" width="3.5" height="5.0" fill="#fff" />
<rect x="174.5" y="334.1" width="3.5" height="5.0" fill="#fff" />
<rect x="174.5" y="349.1" width="3.5" height="5.0" fill="#fff" />
<rect x="180.5" y="334.1" width="3.5" height="5.0" fill="#fff" />
<rect x="180.5" y="349.1" width="3.5" height="5.0" fill="#fff" />
<rect x="186.5" y="334.1" width="3.5" height="5.0" fill="#fff" />
<rect x="186.5" y="349.1" width="3.5" height="5.0" fill="#fff" />
<rect x="192.5" y="334.1" width="3.5" height="5.0" fill="#fff" />
<rect x="192.5" y="349.1" width="3.5" height="5.0" fill="#fff" />
<rect x="198.5" y="334.1" width="3.5" height="5.0" fill="#fff" />
<rect x="198.5" y="349.1" width="3.5" height="5.0" fill="#fff" />
<rect x="204.5" y="334.1" width="3.5" height="5.0" fill="#fff" />
<rect x="204.5" y="349.1" width="3.5" height="5.0" fill="#fff" />
<rect x="210.5" y="334.1" width="3.5" height="5.0" fill="#fff" />
<rect x="210.5" y="349.1" width="3.5" height="5.0" fill="#fff" />
<rect x="216.5" y="334.1" width="3.5" height="5.0" fill="#fff" />
<rect x="216.5" y="349.1" width="3.5" height="5.0" fill="#fff" />
<rect x="222.5" y="334.1" width="3.5" height="5.0" fill="#fff" />
<rect x="222.5" y="349.1" width="3.5" height="5.0" fill="#fff" />
<rect x="228.5" y="334.1" width="3.5" height="5.0" fill="#fff" />
<rect x="228.5" y="349.1" width="3.5" height="5.0" fill="#fff" />
<circle shape-rendering="geometricPrecision" cx="238" cy="343.85" r="2" fill="#fff"/>
<rect x="159" y="341" width="19.599999999999994" height="5.5" fill="#fff" />
<rect x="210.5" y="341" width="19.400000000000006" height="5.5" fill="#fff" />
<rect x="179.2" y="334" width="32.400000000000006" height="19.30000000000001" fill="#000" />
<rect x="181" y="335" width="3" height="1" fill="#fff" />
<rect x="187" y="335" width="3" height="1" fill="#fff" />
<rect x="193" y="335" width="3" height="1" fill="#fff" />
<rect x="199" y="335" width="3" height="1" fill="#fff" />
<rect x="205" y="335" width="3" height="1" fill="#fff" />
<rect x="179.5" y="335" width="1.0" height="2" fill="#fff" />
<rect x="210.5" y="335" width="1.0" height="2" fill="#fff" />
<rect x="181.4" y="337.9" width="28.0" height="14.300000000000011" rx="2.5" fill="#fff" stroke="#000" stroke-width="1.5" shape-rendering="geometricPrecision"/>
<text transform="translate(183.00,348.90) scale(0.72,1)" x="0" y="0" font-size="14" fill="#000" font-weight="normal" textLength="32.08" lengthAdjust="spacing">TAG</text>
<rect x="154" y="357.9" width="84" height="24.600000000000023" fill="#000" />
<rect x="156" y="361" width="3" height="4" fill="#fff" />
<rect x="232" y="361" width="3" height="4" fill="#fff" />
<rect x="156" y="368.5" width="3" height="4.0" fill="#fff" />
<rect x="232" y="368.5" width="3" height="4.0" fill="#fff" />
<rect x="156" y="376" width="3" height="4" fill="#fff" />
<rect x="232" y="376" width="3" height="4" fill="#fff" />
<rect x="160.5" y="368.5" width="2.5" height="4.0" fill="#fff" />
<rect x="163" y="360.5" width="4" height="1.0" fill="#fff" />
<rect x="170" y="360.5" width="4" height="1.0" fill="#fff" />
<rect x="177" y="360.5" width="4" height="1.0" fill="#fff" />
<rect x="184" y="360.5" width="4" height="1.0" fill="#fff" />
<rect x="191" y="360.5" width="4" height="1.0" fill="#fff" />
<rect x="198" y="360.5" width="4" height="1.0" fill="#fff" />
<rect x="205" y="360.5" width="4" height="1.0" fill="#fff" />
<rect x="212" y="360.5" width="4" height="1.0" fill="#fff" />
<rect x="219" y="360.5" width="4" height="1.0" fill="#fff" />
<rect x="226" y="360.5" width="1" height="1.0" fill="#fff" />
<rect x="197" y="379.5" width="4" height="1.0" fill="#fff" />
<rect x="204" y="379.5" width="4" height="1.0" fill="#fff" />
<rect x="211" y="379.5" width="4" height="1.0" fill="#fff" />
<rect x="218" y="379.5" width="4" height="1.0" fill="#fff" />
<rect x="225" y="379.5" width="2" height="1.0" fill="#fff" />
<circle shape-rendering="geometricPrecision" cx="238.5" cy="370" r="2" fill="#fff"/>
<rect x="163.75" y="362.65" width="63.25" height="14.350000000000023" rx="2.5" fill="#fff" stroke="#000" stroke-width="1.5" shape-rendering="geometricPrecision"/>
<text transform="translate(167.60,374.75) scale(0.72,1)" x="0" y="0" font-size="14" fill="#000" font-weight="normal" textLength="77.22" lengthAdjust="spacing">Not Used</text>
<rect x="154" y="389" width="83.75" height="23.75" fill="#000" />
<rect x="156.5" y="391" width="3.5" height="5" fill="#fff" />
<rect x="156.5" y="406.25" width="3.5" height="5.0" fill="#fff" />
<rect x="162.5" y="391" width="3.5" height="5" fill="#fff" />
<rect x="162.5" y="406.25" width="3.5" height="5.0" fill="#fff" />
<rect x="168.5" y="391" width="3.5" height="5" fill="#fff" />
<rect x="168.5" y="406.25" width="3.5" height="5.0" fill="#fff" />
<rect x="174.5" y="391" width="3.5" height="5" fill="#fff" />
<rect x="174.5" y="406.25" width="3.5" height="5.0" fill="#fff" />
<rect x="180.5" y="391" width="3.5" height="5" fill="#fff" />
<rect x="180.5" y="406.25" width="3.5" height="5.0" fill="#fff" />
<rect x="186.5" y="391" width="3.5" height="5" fill="#fff" />
<rect x="186.5" y="406.25" width="3.5" height="5.0" fill="#fff" />
<rect x="192.5" y="391" width="3.5" height="5" fill="#fff" />
<rect x="192.5" y="406.25" width="3.5" height="5.0" fill="#fff" />
<rect x="198.5" y="391" width="3.5" height="5" fill="#fff" />
<rect x="198.5" y="406.25" width="3.5" height="5.0" fill="#fff" />
<rect x="204.5" y="391" width="3.5" height="5" fill="#fff" />
<rect x="204.5" y="406.25" width="3.5" height="5.0" fill="#fff" />
<rect x="210.5" y="391" width="3.5" height="5" fill="#fff" />
<rect x="210.5" y="406.25" width="3.5" height="5.0" fill="#fff" />
<rect x="216.5" y="391" width="3.5" height="5" fill="#fff" />
<rect x="216.5" y="406.25" width="3.5" height="5.0" fill="#fff" />
<rect x="222.5" y="391" width="3.5" height="5" fill="#fff" />
<rect x="222.5" y="406.25" width="3.5" height="5.0" fill="#fff" />
<rect x="228.5" y="391" width="3.5" height="5" fill="#fff" />
<rect x="228.5" y="406.25" width="3.5" height="5.0" fill="#fff" />
<rect x="159" y="399" width="32" height="4.75" fill="#fff" />
<rect x="196.75" y="399" width="33.150000000000006" height="4.75" fill="#fff" />
<circle shape-rendering="geometricPrecision" cx="238" cy="400.875" r="2" fill="#fff"/>
<rect x="154" y="415.25" width="83.75" height="23.75" fill="#000" />
<rect x="156.5" y="417.25" width="3.5" height="5.0" fill="#fff" />
<rect x="156.5" y="432.5" width="3.5" height="5.0" fill="#fff" />
<rect x="162.5" y="417.25" width="3.5" height="5.0" fill="#fff" />
<rect x="162.5" y="432.5" width="3.5" height="5.0" fill="#fff" />
<rect x="168.5" y="417.25" width="3.5" height="5.0" fill="#fff" />
<rect x="168.5" y="432.5" width="3.5" height="5.0" fill="#fff" />
<rect x="174.5" y="417.25" width="3.5" height="5.0" fill="#fff" />
<rect x="174.5" y="432.5" width="3.5" height="5.0" fill="#fff" />
<rect x="180.5" y="417.25" width="3.5" height="5.0" fill="#fff" />
<rect x="180.5" y="432.5" width="3.5" height="5.0" fill="#fff" />
<rect x="186.5" y="417.25" width="3.5" height="5.0" fill="#fff" />
<rect x="186.5" y="432.5" width="3.5" height="5.0" fill="#fff" />
<rect x="192.5" y="417.25" width="3.5" height="5.0" fill="#fff" />
<rect x="192.5" y="432.5" width="3.5" height="5.0" fill="#fff" />
<rect x="198.5" y="417.25" width="3.5" height="5.0" fill="#fff" />
<rect x="198.5" y="432.5" width="3.5" height="5.0" fill="#fff" />
<rect x="204.5" y="417.25" width="3.5" height="5.0" fill="#fff" />
<rect x="204.5" y="432.5" width="3.5" height="5.0" fill="#fff" />
<rect x="210.5" y="417.25" width="3.5" height="5.0" fill="#fff" />
<rect x="210.5" y="432.5" width="3.5" height="5.0" fill="#fff" />
<rect x="216.5" y="417.25" width="3.5" height="5.0" fill="#fff" />
<rect x="216.5" y="432.5" width="3.5" height="5.0" fill="#fff" />
<rect x="222.5" y="417.25" width="3.5" height="5.0" fill="#fff" />
<rect x="222.5" y="432.5" width="3.5" height="5.0" fill="#fff" />
<rect x="228.5" y="417.25" width="3.5" height="5.0" fill="#fff" />
<rect x="228.5" y="432.5" width="3.5" height="5.0" fill="#fff" />
<rect x="159" y="425.25" width="32" height="4.75" fill="#fff" />
<rect x="196.75" y="425.25" width="33.150000000000006" height="4.75" fill="#fff" />
<circle shape-rendering="geometricPrecision" cx="238" cy="427.125" r="2" fill="#fff"/>
<rect x="154" y="440.2" width="83.75" height="24.600000000000023" fill="#000" />
<rect x="156.5" y="442.2" width="3.5" height="5.0" fill="#fff" />
<rect x="156.5" y="458.3" width="3.5" height="5.0" fill="#fff" />
<rect x="162.5" y="442.2" width="3.5" height="5.0" fill="#fff" />
<rect x="162.5" y="458.3" width="3.5" height="5.0" fill="#fff" />
<rect x="168.5" y="442.2" width="3.5" height="5.0" fill="#fff" />
<rect x="168.5" y="458.3" width="3.5" height="5.0" fill="#fff" />
<rect x="174.5" y="442.2" width="3.5" height="5.0" fill="#fff" />
<rect x="174.5" y="458.3" width="3.5" height="5.0" fill="#fff" />
<rect x="180.5" y="442.2" width="3.5" height="5.0" fill="#fff" />
<rect x="180.5" y="458.3" width="3.5" height="5.0" fill="#fff" />
<rect x="186.5" y="442.2" width="3.5" height="5.0" fill="#fff" />
<rect x="186.5" y="458.3" width="3.5" height="5.0" fill="#fff" />
<rect x="192.5" y="442.2" width="3.5" height="5.0" fill="#fff" />
<rect x="192.5" y="458.3" width="3.5" height="5.0" fill="#fff" />
<rect x="198.5" y="442.2" width="3.5" height="5.0" fill="#fff" />
<rect x="198.5" y="458.3" width="3.5" height="5.0" fill="#fff" />
<rect x="204.5" y="442.2" width="3.5" height="5.0" fill="#fff" />
<rect x="204.5" y="458.3" width="3.5" height="5.0" fill="#fff" />
<rect x="210.5" y="442.2" width="3.5" height="5.0" fill="#fff" />
<rect x="210.5" y="458.3" width="3.5" height="5.0" fill="#fff" />
<rect x="216.5" y="442.2" width="3.5" height="5.0" fill="#fff" />
<rect x="216.5" y="458.3" width="3.5" height="5.0" fill="#fff" />
<rect x="222.5" y="442.2" width="3.5" height="5.0" fill="#fff" />
<rect x="222.5" y="458.3" width="3.5" height="5.0" fill="#fff" />
<rect x="228.5" y="442.2" width="3.5" height="5.0" fill="#fff" />
<rect x="228.5" y="458.3" width="3.5" height="5.0" fill="#fff" />
<rect x="159" y="450.2" width="32" height="4.75" fill="#fff" />
<rect x="196.75" y="450.2" width="33.150000000000006" height="4.75" fill="#fff" />
<circle shape-rendering="geometricPrecision" cx="238" cy="452.5" r="2" fill="#fff"/>
<rect x="154" y="467.2" width="83.75" height="24.80000000000001" fill="#000" />
<rect x="156.5" y="469.2" width="3.5" height="5.0" fill="#fff" />
<rect x="156.5" y="485.5" width="3.5" height="5.0" fill="#fff" />
<rect x="162.5" y="469.2" width="3.5" height="5.0" fill="#fff" />
<rect x="162.5" y="485.5" width="3.5" height="5.0" fill="#fff" />
<rect x="168.5" y="469.2" width="3.5" height="5.0" fill="#fff" />
<rect x="168.5" y="485.5" width="3.5" height="5.0" fill="#fff" />
<rect x="174.5" y="469.2" width="3.5" height="5.0" fill="#fff" />
<rect x="174.5" y="485.5" width="3.5" height="5.0" fill="#fff" />
<rect x="180.5" y="469.2" width="3.5" height="5.0" fill="#fff" />
<rect x="180.5" y="485.5" width="3.5" height="5.0" fill="#fff" />
<rect x="186.5" y="469.2" width="3.5" height="5.0" fill="#fff" />
<rect x="186.5" y="485.5" width="3.5" height="5.0" fill="#fff" />
<rect x="192.5" y="469.2" width="3.5" height="5.0" fill="#fff" />
<rect x="192.5" y="485.5" width="3.5" height="5.0" fill="#fff" />
<rect x="198.5" y="469.2" width="3.5" height="5.0" fill="#fff" />
<rect x="198.5" y="485.5" width="3.5" height="5.0" fill="#fff" />
<rect x="204.5" y="469.2" width="3.5" height="5.0" fill="#fff" />
<rect x="204.5" y="485.5" width="3.5" height="5.0" fill="#fff" />
<rect x="210.5" y="469.2" width="3.5" height="5.0" fill="#fff" />
<rect x="210.5" y="485.5" width="3.5" height="5.0" fill="#fff" />
<rect x="216.5" y="469.2" width="3.5" height="5.0" fill="#fff" />
<rect x="216.5" y="485.5" width="3.5" height="5.0" fill="#fff" />
<rect x="222.5" y="469.2" width="3.5" height="5.0" fill="#fff" />
<rect x="222.5" y="485.5" width="3.5" height="5.0" fill="#fff" />
<rect x="228.5" y="469.2" width="3.5" height="5.0" fill="#fff" />
<rect x="228.5" y="485.5" width="3.5" height="5.0" fill="#fff" />
<rect x="159" y="477.2" width="32" height="4.75" fill="#fff" />
<rect x="196.75" y="477.2" width="33.150000000000006" height="4.75" fill="#fff" />
<circle shape-rendering="geometricPrecision" cx="238" cy="479.6" r="2" fill="#fff"/>
<rect x="168.15" y="433.75" width="53.7" height="12.599999999999977" rx="3.5" ry="3.5" fill="#fff" stroke="#000" stroke-width="2.3" shape-rendering="geometricPrecision"/>
<text transform="translate(171.50,444.05) scale(0.72,1)" x="0" y="0" font-size="14" textLength="63.89" lengthAdjust="spacing">BANK 1</text>
<rect x="174" y="491.7" width="65" height="24.900000000000034" fill="#000" />
<rect x="176" y="494.5" width="4" height="1.0" fill="#fff" />
<rect x="183" y="494.5" width="4" height="1.0" fill="#fff" />
<rect x="190" y="494.5" width="4" height="1.0" fill="#fff" />
<rect x="197" y="494.5" width="4" height="1.0" fill="#fff" />
<rect x="204" y="494.5" width="4" height="1.0" fill="#fff" />
<rect x="211" y="494.5" width="4" height="1.0" fill="#fff" />
<rect x="218" y="494.5" width="4" height="1.0" fill="#fff" />
<rect x="225" y="494.5" width="4" height="1.0" fill="#fff" />
<rect x="232" y="494.5" width="4" height="1.0" fill="#fff" />
<rect x="176" y="513.8" width="4" height="1.0" fill="#fff" />
<rect x="183" y="513.8" width="4" height="1.0" fill="#fff" />
<rect x="190" y="513.8" width="4" height="1.0" fill="#fff" />
<rect x="197" y="513.8" width="4" height="1.0" fill="#fff" />
<rect x="204" y="513.8" width="4" height="1.0" fill="#fff" />
<rect x="211" y="513.8" width="4" height="1.0" fill="#fff" />
<rect x="218" y="513.8" width="4" height="1.0" fill="#fff" />
<rect x="225" y="513.8" width="4" height="1.0" fill="#fff" />
<rect x="232" y="513.8" width="4" height="1.0" fill="#fff" />
<rect x="174.5" y="497.5" width="65.5" height="14.0" rx="2.5" fill="#fff" stroke="#000" stroke-width="1.5" shape-rendering="geometricPrecision"/>
<text transform="translate(178.70,509.10) scale(0.72,1)" x="0" y="0" font-size="14" fill="#000" font-weight="normal" textLength="77.22" lengthAdjust="spacing">Not Used</text>
</svg></body></html>
